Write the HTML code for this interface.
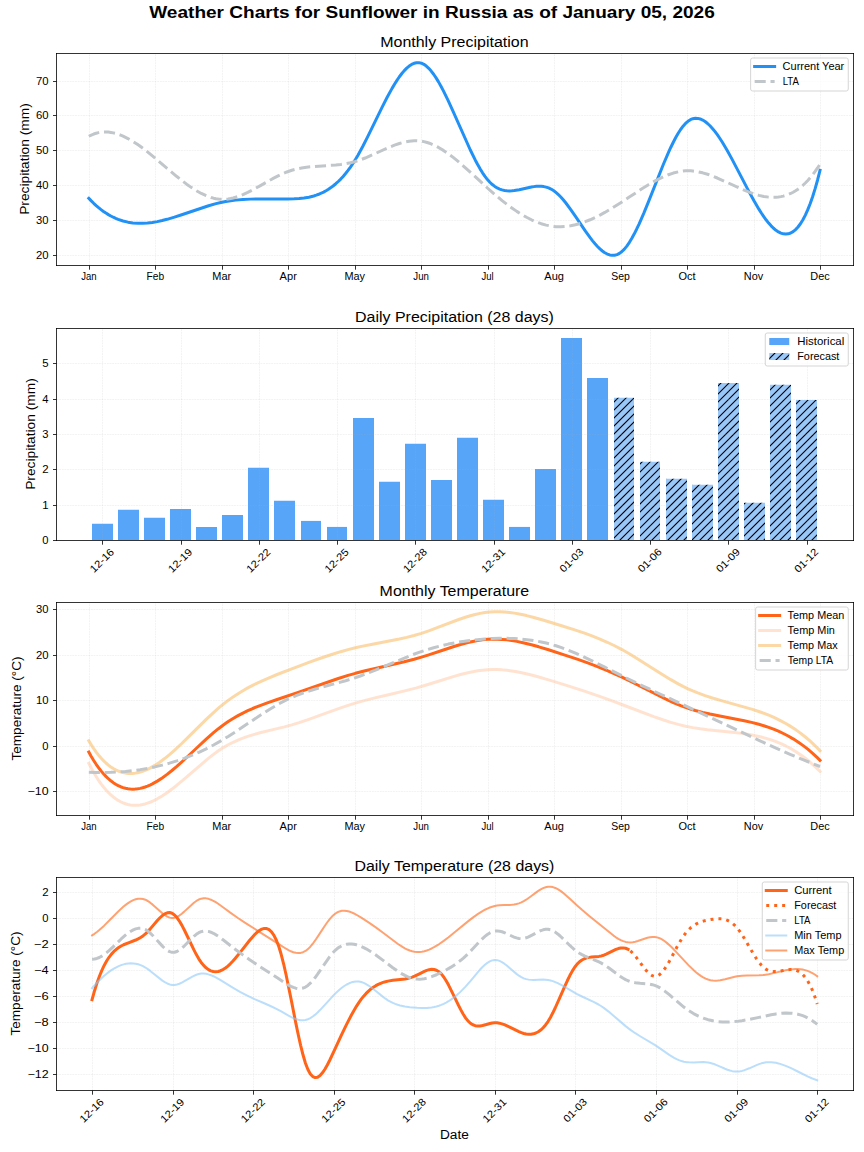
<!DOCTYPE html>
<html><head><meta charset="utf-8"><title>Weather Charts</title>
<style>html,body{margin:0;padding:0;background:#fff;}svg{display:block;}</style></head><body>
<svg  width="864" height="1152" viewBox="0 0 864 1152"  version="1.1">
<defs>
<style type="text/css">*{stroke-linejoin: round; stroke-linecap: butt}</style>
</defs>
<g id="figure_1">
<g id="patch_1">
<path d="M 0 1152 
L 864 1152 
L 864 0 
L 0 0 
z
" style="fill: #ffffff"/>
</g>
<g id="axes_1">
<g id="patch_2">
<path d="M 55.58 265 
L 853.26 265 
L 853.26 53 
L 55.58 53 
z
" style="fill: #ffffff"/>
</g>
<g id="matplotlib.axis_1">
<g id="xtick_1">
<g id="line2d_1">
<path d="M 89.5 265.5 
L 89.5 53.5 
" clip-path="url(#p4a5050b269)" style="fill: none; stroke-dasharray: 1.85,0.8; stroke-dashoffset: 0; stroke: #b0b0b0; stroke-opacity: 0.3; stroke-width: 0.5"/>
</g>
<g id="line2d_2">
<defs>
<path id="m7c25c535dc" d="M 0 0 
L 0 4.2 
" style="stroke: #000000; stroke-width: 0.8"/>
</defs>
<g>
<use href="#m7c25c535dc" x="89.5" y="265.5" style="stroke: #000000; stroke-width: 0.8"/>
</g>
</g>
<g id="text_1">
<text style="font-size: 10.35px; font-family: 'Liberation Sans', sans-serif; text-anchor: middle" x="88.816667" y="280" transform="rotate(-0 88.816667 280)" textLength="15.38" lengthAdjust="spacingAndGlyphs">Jan</text>
</g>
</g>
<g id="xtick_2">
<g id="line2d_3">
<path d="M 155.5 265.5 
L 155.5 53.5 
" clip-path="url(#p4a5050b269)" style="fill: none; stroke-dasharray: 1.85,0.8; stroke-dashoffset: 0; stroke: #b0b0b0; stroke-opacity: 0.3; stroke-width: 0.5"/>
</g>
<g id="line2d_4">
<g>
<use href="#m7c25c535dc" x="155.5" y="265.5" style="stroke: #000000; stroke-width: 0.8"/>
</g>
</g>
<g id="text_2">
<text style="font-size: 10.35px; font-family: 'Liberation Sans', sans-serif; text-anchor: middle" x="155.29" y="280" transform="rotate(-0 155.29 280)" textLength="17.62" lengthAdjust="spacingAndGlyphs">Feb</text>
</g>
</g>
<g id="xtick_3">
<g id="line2d_5">
<path d="M 222.5 265.5 
L 222.5 53.5 
" clip-path="url(#p4a5050b269)" style="fill: none; stroke-dasharray: 1.85,0.8; stroke-dashoffset: 0; stroke: #b0b0b0; stroke-opacity: 0.3; stroke-width: 0.5"/>
</g>
<g id="line2d_6">
<g>
<use href="#m7c25c535dc" x="222.5" y="265.5" style="stroke: #000000; stroke-width: 0.8"/>
</g>
</g>
<g id="text_3">
<text style="font-size: 10.35px; font-family: 'Liberation Sans', sans-serif; text-anchor: middle" x="221.763333" y="280" transform="rotate(-0 221.763333 280)" textLength="18.88" lengthAdjust="spacingAndGlyphs">Mar</text>
</g>
</g>
<g id="xtick_4">
<g id="line2d_7">
<path d="M 288.5 265.5 
L 288.5 53.5 
" clip-path="url(#p4a5050b269)" style="fill: none; stroke-dasharray: 1.85,0.8; stroke-dashoffset: 0; stroke: #b0b0b0; stroke-opacity: 0.3; stroke-width: 0.5"/>
</g>
<g id="line2d_8">
<g>
<use href="#m7c25c535dc" x="288.5" y="265.5" style="stroke: #000000; stroke-width: 0.8"/>
</g>
</g>
<g id="text_4">
<text style="font-size: 10.35px; font-family: 'Liberation Sans', sans-serif; text-anchor: middle" x="288.236667" y="280" transform="rotate(-0 288.236667 280)" textLength="17.25" lengthAdjust="spacingAndGlyphs">Apr</text>
</g>
</g>
<g id="xtick_5">
<g id="line2d_9">
<path d="M 355.5 265.5 
L 355.5 53.5 
" clip-path="url(#p4a5050b269)" style="fill: none; stroke-dasharray: 1.85,0.8; stroke-dashoffset: 0; stroke: #b0b0b0; stroke-opacity: 0.3; stroke-width: 0.5"/>
</g>
<g id="line2d_10">
<g>
<use href="#m7c25c535dc" x="355.5" y="265.5" style="stroke: #000000; stroke-width: 0.8"/>
</g>
</g>
<g id="text_5">
<text style="font-size: 10.35px; font-family: 'Liberation Sans', sans-serif; text-anchor: middle" x="354.71" y="280" transform="rotate(-0 354.71 280)" textLength="20.62" lengthAdjust="spacingAndGlyphs">May</text>
</g>
</g>
<g id="xtick_6">
<g id="line2d_11">
<path d="M 421.5 265.5 
L 421.5 53.5 
" clip-path="url(#p4a5050b269)" style="fill: none; stroke-dasharray: 1.85,0.8; stroke-dashoffset: 0; stroke: #b0b0b0; stroke-opacity: 0.3; stroke-width: 0.5"/>
</g>
<g id="line2d_12">
<g>
<use href="#m7c25c535dc" x="421.5" y="265.5" style="stroke: #000000; stroke-width: 0.8"/>
</g>
</g>
<g id="text_6">
<text style="font-size: 10.35px; font-family: 'Liberation Sans', sans-serif; text-anchor: middle" x="421.183333" y="280" transform="rotate(-0 421.183333 280)" textLength="15.62" lengthAdjust="spacingAndGlyphs">Jun</text>
</g>
</g>
<g id="xtick_7">
<g id="line2d_13">
<path d="M 488.5 265.5 
L 488.5 53.5 
" clip-path="url(#p4a5050b269)" style="fill: none; stroke-dasharray: 1.85,0.8; stroke-dashoffset: 0; stroke: #b0b0b0; stroke-opacity: 0.3; stroke-width: 0.5"/>
</g>
<g id="line2d_14">
<g>
<use href="#m7c25c535dc" x="488.5" y="265.5" style="stroke: #000000; stroke-width: 0.8"/>
</g>
</g>
<g id="text_7">
<text style="font-size: 10.35px; font-family: 'Liberation Sans', sans-serif; text-anchor: middle" x="487.656667" y="280" transform="rotate(-0 487.656667 280)" textLength="12.12" lengthAdjust="spacingAndGlyphs">Jul</text>
</g>
</g>
<g id="xtick_8">
<g id="line2d_15">
<path d="M 554.5 265.5 
L 554.5 53.5 
" clip-path="url(#p4a5050b269)" style="fill: none; stroke-dasharray: 1.85,0.8; stroke-dashoffset: 0; stroke: #b0b0b0; stroke-opacity: 0.3; stroke-width: 0.5"/>
</g>
<g id="line2d_16">
<g>
<use href="#m7c25c535dc" x="554.5" y="265.5" style="stroke: #000000; stroke-width: 0.8"/>
</g>
</g>
<g id="text_8">
<text style="font-size: 10.35px; font-family: 'Liberation Sans', sans-serif; text-anchor: middle" x="554.13" y="280" transform="rotate(-0 554.13 280)" textLength="19.62" lengthAdjust="spacingAndGlyphs">Aug</text>
</g>
</g>
<g id="xtick_9">
<g id="line2d_17">
<path d="M 621.5 265.5 
L 621.5 53.5 
" clip-path="url(#p4a5050b269)" style="fill: none; stroke-dasharray: 1.85,0.8; stroke-dashoffset: 0; stroke: #b0b0b0; stroke-opacity: 0.3; stroke-width: 0.5"/>
</g>
<g id="line2d_18">
<g>
<use href="#m7c25c535dc" x="621.5" y="265.5" style="stroke: #000000; stroke-width: 0.8"/>
</g>
</g>
<g id="text_9">
<text style="font-size: 10.35px; font-family: 'Liberation Sans', sans-serif; text-anchor: middle" x="620.603333" y="280" transform="rotate(-0 620.603333 280)" textLength="18.62" lengthAdjust="spacingAndGlyphs">Sep</text>
</g>
</g>
<g id="xtick_10">
<g id="line2d_19">
<path d="M 687.5 265.5 
L 687.5 53.5 
" clip-path="url(#p4a5050b269)" style="fill: none; stroke-dasharray: 1.85,0.8; stroke-dashoffset: 0; stroke: #b0b0b0; stroke-opacity: 0.3; stroke-width: 0.5"/>
</g>
<g id="line2d_20">
<g>
<use href="#m7c25c535dc" x="687.5" y="265.5" style="stroke: #000000; stroke-width: 0.8"/>
</g>
</g>
<g id="text_10">
<text style="font-size: 10.35px; font-family: 'Liberation Sans', sans-serif; text-anchor: middle" x="687.076667" y="280" transform="rotate(-0 687.076667 280)" textLength="17.12" lengthAdjust="spacingAndGlyphs">Oct</text>
</g>
</g>
<g id="xtick_11">
<g id="line2d_21">
<path d="M 754.5 265.5 
L 754.5 53.5 
" clip-path="url(#p4a5050b269)" style="fill: none; stroke-dasharray: 1.85,0.8; stroke-dashoffset: 0; stroke: #b0b0b0; stroke-opacity: 0.3; stroke-width: 0.5"/>
</g>
<g id="line2d_22">
<g>
<use href="#m7c25c535dc" x="754.5" y="265.5" style="stroke: #000000; stroke-width: 0.8"/>
</g>
</g>
<g id="text_11">
<text style="font-size: 10.35px; font-family: 'Liberation Sans', sans-serif; text-anchor: middle" x="753.55" y="280" transform="rotate(-0 753.55 280)" textLength="19.38" lengthAdjust="spacingAndGlyphs">Nov</text>
</g>
</g>
<g id="xtick_12">
<g id="line2d_23">
<path d="M 820.5 265.5 
L 820.5 53.5 
" clip-path="url(#p4a5050b269)" style="fill: none; stroke-dasharray: 1.85,0.8; stroke-dashoffset: 0; stroke: #b0b0b0; stroke-opacity: 0.3; stroke-width: 0.5"/>
</g>
<g id="line2d_24">
<g>
<use href="#m7c25c535dc" x="820.5" y="265.5" style="stroke: #000000; stroke-width: 0.8"/>
</g>
</g>
<g id="text_12">
<text style="font-size: 10.35px; font-family: 'Liberation Sans', sans-serif; text-anchor: middle" x="820.023333" y="280" transform="rotate(-0 820.023333 280)" textLength="19.38" lengthAdjust="spacingAndGlyphs">Dec</text>
</g>
</g>
</g>
<g id="matplotlib.axis_2">
<g id="ytick_1">
<g id="line2d_25">
<path d="M 56.5 255.5 
L 853.5 255.5 
" clip-path="url(#p4a5050b269)" style="fill: none; stroke-dasharray: 1.85,0.8; stroke-dashoffset: 0; stroke: #b0b0b0; stroke-opacity: 0.3; stroke-width: 0.5"/>
</g>
<g id="line2d_26">
<defs>
<path id="mb258c49b38" d="M 0 0 
L -3.5 0 
" style="stroke: #000000; stroke-width: 0.8"/>
</defs>
<g>
<use href="#mb258c49b38" x="56.5" y="255.5" style="stroke: #000000; stroke-width: 0.8"/>
</g>
</g>
<g id="text_13">
<text style="font-size: 10.35px; font-family: 'Liberation Sans', sans-serif; text-anchor: end" x="48.58" y="258.741393" transform="rotate(-0 48.58 258.741393)" textLength="12.62" lengthAdjust="spacingAndGlyphs">20</text>
</g>
</g>
<g id="ytick_2">
<g id="line2d_27">
<path d="M 56.5 220.5 
L 853.5 220.5 
" clip-path="url(#p4a5050b269)" style="fill: none; stroke-dasharray: 1.85,0.8; stroke-dashoffset: 0; stroke: #b0b0b0; stroke-opacity: 0.3; stroke-width: 0.5"/>
</g>
<g id="line2d_28">
<g>
<use href="#mb258c49b38" x="56.5" y="220.5" style="stroke: #000000; stroke-width: 0.8"/>
</g>
</g>
<g id="text_14">
<text style="font-size: 10.35px; font-family: 'Liberation Sans', sans-serif; text-anchor: end" x="48.58" y="223.897926" transform="rotate(-0 48.58 223.897926)" textLength="12.50" lengthAdjust="spacingAndGlyphs">30</text>
</g>
</g>
<g id="ytick_3">
<g id="line2d_29">
<path d="M 56.5 185.5 
L 853.5 185.5 
" clip-path="url(#p4a5050b269)" style="fill: none; stroke-dasharray: 1.85,0.8; stroke-dashoffset: 0; stroke: #b0b0b0; stroke-opacity: 0.3; stroke-width: 0.5"/>
</g>
<g id="line2d_30">
<g>
<use href="#mb258c49b38" x="56.5" y="185.5" style="stroke: #000000; stroke-width: 0.8"/>
</g>
</g>
<g id="text_15">
<text style="font-size: 10.35px; font-family: 'Liberation Sans', sans-serif; text-anchor: end" x="48.58" y="189.054459" transform="rotate(-0 48.58 189.054459)" textLength="12.50" lengthAdjust="spacingAndGlyphs">40</text>
</g>
</g>
<g id="ytick_4">
<g id="line2d_31">
<path d="M 56.5 150.5 
L 853.5 150.5 
" clip-path="url(#p4a5050b269)" style="fill: none; stroke-dasharray: 1.85,0.8; stroke-dashoffset: 0; stroke: #b0b0b0; stroke-opacity: 0.3; stroke-width: 0.5"/>
</g>
<g id="line2d_32">
<g>
<use href="#mb258c49b38" x="56.5" y="150.5" style="stroke: #000000; stroke-width: 0.8"/>
</g>
</g>
<g id="text_16">
<text style="font-size: 10.35px; font-family: 'Liberation Sans', sans-serif; text-anchor: end" x="48.58" y="154.210992" transform="rotate(-0 48.58 154.210992)" textLength="12.62" lengthAdjust="spacingAndGlyphs">50</text>
</g>
</g>
<g id="ytick_5">
<g id="line2d_33">
<path d="M 56.5 115.5 
L 853.5 115.5 
" clip-path="url(#p4a5050b269)" style="fill: none; stroke-dasharray: 1.85,0.8; stroke-dashoffset: 0; stroke: #b0b0b0; stroke-opacity: 0.3; stroke-width: 0.5"/>
</g>
<g id="line2d_34">
<g>
<use href="#mb258c49b38" x="56.5" y="115.5" style="stroke: #000000; stroke-width: 0.8"/>
</g>
</g>
<g id="text_17">
<text style="font-size: 10.35px; font-family: 'Liberation Sans', sans-serif; text-anchor: end" x="48.58" y="119.367525" transform="rotate(-0 48.58 119.367525)" textLength="12.62" lengthAdjust="spacingAndGlyphs">60</text>
</g>
</g>
<g id="ytick_6">
<g id="line2d_35">
<path d="M 56.5 81.5 
L 853.5 81.5 
" clip-path="url(#p4a5050b269)" style="fill: none; stroke-dasharray: 1.85,0.8; stroke-dashoffset: 0; stroke: #b0b0b0; stroke-opacity: 0.3; stroke-width: 0.5"/>
</g>
<g id="line2d_36">
<g>
<use href="#mb258c49b38" x="56.5" y="81.5" style="stroke: #000000; stroke-width: 0.8"/>
</g>
</g>
<g id="text_18">
<text style="font-size: 10.35px; font-family: 'Liberation Sans', sans-serif; text-anchor: end" x="48.58" y="84.524058" transform="rotate(-0 48.58 84.524058)" textLength="12.62" lengthAdjust="spacingAndGlyphs">70</text>
</g>
</g>
<g id="text_19">
<text style="font-size: 12.42px; font-family: 'Liberation Sans', sans-serif; text-anchor: middle" x="28.955" y="159" transform="rotate(-90 28.955 159)" textLength="111.75" lengthAdjust="spacingAndGlyphs">Precipitation (mm)</text>
</g>
</g>
<g id="line2d_37">
<path d="M 88.816667 198.294977 
L 91.262174 200.883902 
L 93.707681 203.307451 
L 96.153188 205.569699 
L 98.598696 207.67472 
L 101.044203 209.626586 
L 103.48971 211.429373 
L 105.935217 213.087154 
L 108.380725 214.604003 
L 110.826232 215.983994 
L 113.271739 217.231201 
L 115.717246 218.349697 
L 118.162754 219.343558 
L 123.053768 220.973665 
L 127.944783 222.154115 
L 132.835797 222.917497 
L 137.726812 223.296404 
L 142.617826 223.323427 
L 147.508841 223.031157 
L 152.399855 222.452185 
L 157.29087 221.619103 
L 162.181884 220.564503 
L 167.072899 219.320974 
L 174.40942 217.172736 
L 181.745942 214.782738 
L 208.646522 205.728596 
L 215.983043 203.664769 
L 220.874058 202.494065 
L 225.765072 201.520717 
L 230.656087 200.738935 
L 235.547101 200.128636 
L 242.883623 199.490672 
L 250.220145 199.12528 
L 257.556667 198.964503 
L 269.784203 198.96666 
L 286.902754 199.008361 
L 294.239275 198.834408 
L 299.13029 198.537076 
L 304.021304 198.00739 
L 308.912319 197.17047 
L 313.803333 195.951432 
L 316.248841 195.175218 
L 318.694348 194.275395 
L 321.139855 193.242601 
L 323.585362 192.067477 
L 326.03087 190.740663 
L 328.476377 189.252797 
L 330.921884 187.594521 
L 333.367391 185.756473 
L 335.812899 183.729293 
L 338.258406 181.503622 
L 340.703913 179.070099 
L 343.14942 176.419364 
L 345.594928 173.542056 
L 348.040435 170.428816 
L 350.485942 167.070283 
L 352.931449 163.457096 
L 355.376957 159.580039 
L 357.822464 155.443783 
L 362.713478 146.516476 
L 367.604493 136.934262 
L 374.941014 121.905645 
L 382.277536 106.87603 
L 387.168551 97.29204 
L 392.059565 88.36207 
L 394.505072 84.224151 
L 396.95058 80.347905 
L 399.396087 76.766057 
L 401.841594 73.51133 
L 404.287101 70.616447 
L 406.732609 68.11413 
L 409.178116 66.037104 
L 411.623623 64.418091 
L 414.06913 63.289814 
L 416.514638 62.684998 
L 418.960145 62.636364 
L 421.405652 63.176627 
L 423.851159 64.322841 
L 426.296667 66.044273 
L 428.742174 68.301107 
L 431.187681 71.053526 
L 433.633188 74.261714 
L 436.078696 77.885854 
L 438.524203 81.886129 
L 440.96971 86.222724 
L 443.415217 90.855822 
L 448.306232 100.852259 
L 453.197246 111.556909 
L 470.315797 150.001556 
L 475.206812 159.951332 
L 477.652319 164.554736 
L 480.097826 168.857395 
L 482.543333 172.819493 
L 484.988841 176.401214 
L 487.434348 179.56274 
L 489.879855 182.273121 
L 492.325362 184.548046 
L 494.77087 186.418488 
L 497.216377 187.915429 
L 499.661884 189.069852 
L 502.107391 189.912737 
L 504.552899 190.475068 
L 506.998406 190.787826 
L 509.443913 190.881993 
L 511.88942 190.788551 
L 514.334928 190.538482 
L 519.225942 189.692392 
L 531.453478 187.004937 
L 533.898986 186.617205 
L 536.344493 186.351684 
L 538.79 186.239357 
L 541.235507 186.311204 
L 543.681014 186.598209 
L 546.126522 187.131353 
L 548.572029 187.941618 
L 551.017536 189.059985 
L 553.463043 190.517438 
L 555.908551 192.34057 
L 558.354058 194.514731 
L 560.799565 197.002677 
L 563.245072 199.766932 
L 565.69058 202.77002 
L 570.581594 209.34279 
L 575.472609 216.421177 
L 585.254638 230.895567 
L 590.145652 237.691951 
L 592.591159 240.848773 
L 595.036667 243.794715 
L 597.482174 246.492299 
L 599.927681 248.90405 
L 602.373188 250.992491 
L 604.818696 252.720146 
L 607.264203 254.04954 
L 609.70971 254.943195 
L 612.155217 255.363636 
L 614.600725 255.273387 
L 617.046232 254.634971 
L 619.491739 253.410913 
L 621.937246 251.566003 
L 624.382754 249.107544 
L 626.828261 246.080589 
L 629.273768 242.531506 
L 631.719275 238.506663 
L 634.164783 234.052427 
L 636.61029 229.215164 
L 639.055797 224.041242 
L 643.946812 212.868891 
L 648.837826 200.906311 
L 663.51087 163.986576 
L 668.401884 152.572459 
L 670.847391 147.241389 
L 673.292899 142.222802 
L 675.738406 137.563064 
L 678.183913 133.308542 
L 680.62942 129.505605 
L 683.074928 126.200619 
L 685.520435 123.439952 
L 687.965942 121.269372 
L 690.411449 119.705537 
L 692.856957 118.72347 
L 695.302464 118.294994 
L 697.747971 118.391931 
L 700.193478 118.986105 
L 702.638986 120.049337 
L 705.084493 121.553451 
L 707.53 123.470268 
L 709.975507 125.771612 
L 712.421014 128.429304 
L 714.866522 131.415169 
L 717.312029 134.701027 
L 719.757536 138.258703 
L 722.203043 142.060018 
L 727.094058 150.280856 
L 731.985072 159.138122 
L 739.321594 173.124221 
L 749.103623 191.89594 
L 753.994638 200.827571 
L 758.885652 209.155825 
L 761.331159 213.023241 
L 763.776667 216.655281 
L 766.222174 220.023768 
L 768.667681 223.100522 
L 771.113188 225.857368 
L 773.558696 228.266127 
L 776.004203 230.298623 
L 778.44971 231.926678 
L 780.895217 233.122114 
L 783.340725 233.856754 
L 785.786232 234.102421 
L 788.231739 233.830937 
L 790.677246 233.014125 
L 793.122754 231.623807 
L 795.568261 229.631806 
L 798.013768 227.009945 
L 800.459275 223.730046 
L 802.904783 219.763932 
L 805.35029 215.083425 
L 807.795797 209.660348 
L 810.241304 203.466524 
L 812.686812 196.473774 
L 815.132319 188.653923 
L 817.577826 179.978792 
L 820.023333 170.420203 
L 820.023333 170.420203 
" clip-path="url(#p4a5050b269)" style="fill: none; stroke: #2191f5; stroke-width: 3; stroke-linecap: square"/>
</g>
<g id="line2d_38">
<path d="M 88.816667 136.273605 
L 91.262174 135.045274 
L 93.707681 134.033613 
L 96.153188 133.231337 
L 98.598696 132.63116 
L 101.044203 132.225799 
L 103.48971 132.007968 
L 105.935217 131.970382 
L 108.380725 132.105757 
L 110.826232 132.406807 
L 113.271739 132.866247 
L 115.717246 133.476793 
L 118.162754 134.23116 
L 120.608261 135.122062 
L 123.053768 136.142215 
L 127.944783 138.541135 
L 132.835797 141.369638 
L 137.726812 144.569447 
L 142.617826 148.082281 
L 147.508841 151.849861 
L 154.845362 157.851395 
L 167.072899 168.302058 
L 176.854928 176.541371 
L 181.745942 180.460353 
L 186.636957 184.167847 
L 191.527971 187.605573 
L 196.418986 190.715252 
L 201.31 193.438604 
L 206.201014 195.71735 
L 208.646522 196.671783 
L 211.092029 197.49321 
L 213.537536 198.174347 
L 215.983043 198.707907 
L 218.428551 199.086606 
L 220.874058 199.303159 
L 223.319565 199.351027 
L 225.765072 199.233375 
L 228.21058 198.96015 
L 230.656087 198.541442 
L 233.101594 197.987337 
L 237.992609 196.513294 
L 242.883623 194.618724 
L 247.774638 192.384334 
L 252.665652 189.890827 
L 260.002174 185.841267 
L 272.22971 178.939741 
L 277.120725 176.361229 
L 282.011739 174.00783 
L 286.902754 171.960251 
L 291.793768 170.290408 
L 296.684783 168.987657 
L 301.575797 167.996113 
L 306.466812 167.259429 
L 311.357826 166.721259 
L 318.694348 166.162957 
L 335.812899 165.035966 
L 340.703913 164.50559 
L 345.594928 163.779298 
L 350.485942 162.800744 
L 355.376957 161.513636 
L 360.267971 159.893722 
L 365.158986 158.002401 
L 372.495507 154.821828 
L 389.614058 147.119406 
L 394.505072 145.186468 
L 399.396087 143.511064 
L 404.287101 142.168756 
L 409.178116 141.235107 
L 411.623623 140.945143 
L 414.06913 140.78568 
L 416.514638 140.766163 
L 418.960145 140.896038 
L 421.405652 141.184747 
L 423.851159 141.638116 
L 426.296667 142.250927 
L 428.742174 143.015864 
L 431.187681 143.925611 
L 433.633188 144.972851 
L 438.524203 147.450547 
L 443.415217 150.390421 
L 448.306232 153.733944 
L 453.197246 157.422585 
L 458.088261 161.397815 
L 465.424783 167.769978 
L 475.206812 176.722976 
L 487.434348 187.989871 
L 494.77087 194.456975 
L 502.107391 200.563114 
L 506.998406 204.393635 
L 511.88942 208.004177 
L 516.780435 211.370918 
L 521.671449 214.470039 
L 526.562464 217.27772 
L 531.453478 219.770141 
L 536.344493 221.923481 
L 541.235507 223.71392 
L 546.126522 225.117638 
L 551.017536 226.110815 
L 555.908551 226.670033 
L 560.799565 226.791488 
L 565.69058 226.499418 
L 570.581594 225.820219 
L 575.472609 224.780288 
L 580.363623 223.406021 
L 585.254638 221.723813 
L 590.145652 219.760062 
L 595.036667 217.541164 
L 599.927681 215.093513 
L 604.818696 212.443508 
L 612.155217 208.146825 
L 619.491739 203.54332 
L 629.273768 197.100665 
L 641.501304 189.043888 
L 648.837826 184.486848 
L 653.728841 181.661088 
L 658.619855 179.05937 
L 663.51087 176.728178 
L 668.401884 174.713994 
L 673.292899 173.0633 
L 678.183913 171.822581 
L 680.62942 171.370487 
L 683.074928 171.038317 
L 685.520435 170.831882 
L 687.965942 170.756884 
L 690.411449 170.813792 
L 692.856957 170.995585 
L 697.747971 171.703445 
L 702.638986 172.819704 
L 707.53 174.2836 
L 712.421014 176.03437 
L 717.312029 178.011253 
L 724.648551 181.267621 
L 744.212609 190.210571 
L 749.103623 192.176113 
L 753.994638 193.912053 
L 758.885652 195.357629 
L 763.776667 196.452079 
L 768.667681 197.134641 
L 771.113188 197.302476 
L 773.558696 197.344554 
L 776.004203 197.253278 
L 778.44971 197.021054 
L 780.895217 196.640286 
L 783.340725 196.10338 
L 785.786232 195.40274 
L 788.231739 194.530771 
L 790.677246 193.479877 
L 793.122754 192.242464 
L 795.568261 190.810936 
L 798.013768 189.177697 
L 800.459275 187.335154 
L 802.904783 185.275709 
L 805.35029 182.991769 
L 807.795797 180.475737 
L 810.241304 177.720019 
L 812.686812 174.71702 
L 815.132319 171.459143 
L 817.577826 167.938795 
L 820.023333 164.148379 
L 820.023333 164.148379 
" clip-path="url(#p4a5050b269)" style="fill: none; stroke-dasharray: 11.1,4.8; stroke-dashoffset: 0; stroke: #c0c6ca; stroke-width: 3"/>
</g>
<g id="patch_3">
<path d="M 56.5 265.5 
L 56.5 53.5 
" style="fill: none; stroke: #000000; stroke-width: 0.8; stroke-linejoin: miter; stroke-linecap: square"/>
</g>
<g id="patch_4">
<path d="M 853.5 265.5 
L 853.5 53.5 
" style="fill: none; stroke: #000000; stroke-width: 0.8; stroke-linejoin: miter; stroke-linecap: square"/>
</g>
<g id="patch_5">
<path d="M 56.5 265.5 
L 853.5 265.5 
" style="fill: none; stroke: #000000; stroke-width: 0.8; stroke-linejoin: miter; stroke-linecap: square"/>
</g>
<g id="patch_6">
<path d="M 56.5 53.5 
L 853.5 53.5 
" style="fill: none; stroke: #000000; stroke-width: 0.8; stroke-linejoin: miter; stroke-linecap: square"/>
</g>
<g id="text_20">
<text style="font-size: 14.49px; font-family: 'Liberation Sans', sans-serif; text-anchor: middle" x="454.42" y="47" transform="rotate(-0 454.42 47)" textLength="148.50" lengthAdjust="spacingAndGlyphs">Monthly Precipitation</text>
</g>
<g id="legend_1">
<g id="patch_7">
<path d="M 752.635 91 
L 846.26 91 
Q 848.26 91 848.26 89 
L 848.26 60 
Q 848.26 58 846.26 58 
L 752.635 58 
Q 750.635 58 750.635 60 
L 750.635 89 
Q 750.635 91 752.635 91 
z
" style="fill: #ffffff; opacity: 0.8; stroke: #cccccc; stroke-linejoin: miter"/>
</g>
<g id="line2d_39">
<path d="M 754.635 66.5 
L 764.635 66.5 
L 774.635 66.5 
" style="fill: none; stroke: #2191f5; stroke-width: 3; stroke-linecap: square"/>
</g>
<g id="text_21">
<text style="font-size: 10.35px; font-family: 'Liberation Sans', sans-serif; text-anchor: start" x="782.635" y="70" transform="rotate(-0 782.635 70)" textLength="61.62" lengthAdjust="spacingAndGlyphs">Current Year</text>
</g>
<g id="line2d_40">
<path d="M 754.635 81.5 
L 764.635 81.5 
L 774.635 81.5 
" style="fill: none; stroke-dasharray: 11.1,4.8; stroke-dashoffset: 0; stroke: #c0c6ca; stroke-width: 3"/>
</g>
<g id="text_22">
<text style="font-size: 10.35px; font-family: 'Liberation Sans', sans-serif; text-anchor: start" x="782.635" y="85" transform="rotate(-0 782.635 85)" textLength="16.25" lengthAdjust="spacingAndGlyphs">LTA</text>
</g>
</g>
</g>
<g id="axes_2">
<g id="patch_8">
<path d="M 55.58 540 
L 853.26 540 
L 853.26 328 
L 55.58 328 
z
" style="fill: #ffffff"/>
</g>
<g id="patch_9">
<path d="M 92 540 
L 113 540 
L 113 523.734468 
L 92 523.734468 
z
" clip-path="url(#pa40467c3e4)" style="fill: #57a5f9"/>
</g>
<g id="patch_10">
<path d="M 118 540 
L 139 540 
L 139 509.767325 
L 118 509.767325 
z
" clip-path="url(#pa40467c3e4)" style="fill: #57a5f9"/>
</g>
<g id="patch_11">
<path d="M 144 540 
L 165 540 
L 165 517.723292 
L 144 517.723292 
z
" clip-path="url(#pa40467c3e4)" style="fill: #57a5f9"/>
</g>
<g id="patch_12">
<path d="M 170 540 
L 191 540 
L 191 508.883329 
L 170 508.883329 
z
" clip-path="url(#pa40467c3e4)" style="fill: #57a5f9"/>
</g>
<g id="patch_13">
<path d="M 196 540 
L 217 540 
L 217 526.916854 
L 196 526.916854 
z
" clip-path="url(#pa40467c3e4)" style="fill: #57a5f9"/>
</g>
<g id="patch_14">
<path d="M 222 540 
L 243 540 
L 243 514.894504 
L 222 514.894504 
z
" clip-path="url(#pa40467c3e4)" style="fill: #57a5f9"/>
</g>
<g id="patch_15">
<path d="M 248 540 
L 269 540 
L 269 467.865899 
L 248 467.865899 
z
" clip-path="url(#pa40467c3e4)" style="fill: #57a5f9"/>
</g>
<g id="patch_16">
<path d="M 274 540 
L 295 540 
L 295 500.750563 
L 274 500.750563 
z
" clip-path="url(#pa40467c3e4)" style="fill: #57a5f9"/>
</g>
<g id="patch_17">
<path d="M 301 540 
L 321 540 
L 321 520.905679 
L 301 520.905679 
z
" clip-path="url(#pa40467c3e4)" style="fill: #57a5f9"/>
</g>
<g id="patch_18">
<path d="M 327 540 
L 347 540 
L 347 526.916854 
L 327 526.916854 
z
" clip-path="url(#pa40467c3e4)" style="fill: #57a5f9"/>
</g>
<g id="patch_19">
<path d="M 353 540 
L 374 540 
L 374 418.008506 
L 353 418.008506 
z
" clip-path="url(#pa40467c3e4)" style="fill: #57a5f9"/>
</g>
<g id="patch_20">
<path d="M 379 540 
L 400 540 
L 400 481.833041 
L 379 481.833041 
z
" clip-path="url(#pa40467c3e4)" style="fill: #57a5f9"/>
</g>
<g id="patch_21">
<path d="M 405 540 
L 426 540 
L 426 443.821199 
L 405 443.821199 
z
" clip-path="url(#pa40467c3e4)" style="fill: #57a5f9"/>
</g>
<g id="patch_22">
<path d="M 431 540 
L 452 540 
L 452 479.88825 
L 431 479.88825 
z
" clip-path="url(#pa40467c3e4)" style="fill: #57a5f9"/>
</g>
<g id="patch_23">
<path d="M 457 540 
L 478 540 
L 478 437.810024 
L 457 437.810024 
z
" clip-path="url(#pa40467c3e4)" style="fill: #57a5f9"/>
</g>
<g id="patch_24">
<path d="M 483 540 
L 504 540 
L 504 499.689767 
L 483 499.689767 
z
" clip-path="url(#pa40467c3e4)" style="fill: #57a5f9"/>
</g>
<g id="patch_25">
<path d="M 509 540 
L 530 540 
L 530 526.916854 
L 509 526.916854 
z
" clip-path="url(#pa40467c3e4)" style="fill: #57a5f9"/>
</g>
<g id="patch_26">
<path d="M 535 540 
L 556 540 
L 556 468.926695 
L 535 468.926695 
z
" clip-path="url(#pa40467c3e4)" style="fill: #57a5f9"/>
</g>
<g id="patch_27">
<path d="M 561 540 
L 582 540 
L 582 338.095238 
L 561 338.095238 
z
" clip-path="url(#pa40467c3e4)" style="fill: #57a5f9"/>
</g>
<g id="patch_28">
<path d="M 587 540 
L 608 540 
L 608 378.051872 
L 587 378.051872 
z
" clip-path="url(#pa40467c3e4)" style="fill: #57a5f9"/>
</g>
<g id="patch_29">
<path d="M 614 540 
L 634 540 
L 634 397.85339 
L 614 397.85339 
z
" clip-path="url(#pa40467c3e4)" style="fill: url(#heecc6afefc)"/>
</g>
<g id="patch_30">
<path d="M 640 540 
L 660 540 
L 660 461.854724 
L 640 461.854724 
z
" clip-path="url(#pa40467c3e4)" style="fill: url(#heecc6afefc)"/>
</g>
<g id="patch_31">
<path d="M 666 540 
L 687 540 
L 687 478.827454 
L 666 478.827454 
z
" clip-path="url(#pa40467c3e4)" style="fill: url(#heecc6afefc)"/>
</g>
<g id="patch_32">
<path d="M 692 540 
L 713 540 
L 713 484.838629 
L 692 484.838629 
z
" clip-path="url(#pa40467c3e4)" style="fill: url(#heecc6afefc)"/>
</g>
<g id="patch_33">
<path d="M 718 540 
L 739 540 
L 739 383.002252 
L 718 383.002252 
z
" clip-path="url(#pa40467c3e4)" style="fill: url(#heecc6afefc)"/>
</g>
<g id="patch_34">
<path d="M 744 540 
L 765 540 
L 765 502.872154 
L 744 502.872154 
z
" clip-path="url(#pa40467c3e4)" style="fill: url(#heecc6afefc)"/>
</g>
<g id="patch_35">
<path d="M 770 540 
L 791 540 
L 791 384.770244 
L 770 384.770244 
z
" clip-path="url(#pa40467c3e4)" style="fill: url(#heecc6afefc)"/>
</g>
<g id="patch_36">
<path d="M 796 540 
L 817 540 
L 817 399.974981 
L 796 399.974981 
z
" clip-path="url(#pa40467c3e4)" style="fill: url(#heecc6afefc)"/>
</g>
<g id="matplotlib.axis_3">
<g id="xtick_13">
<g id="line2d_41">
<path d="M 102.5 540.5 
L 102.5 328.5 
" clip-path="url(#pa40467c3e4)" style="fill: none; stroke-dasharray: 1.85,0.8; stroke-dashoffset: 0; stroke: #b0b0b0; stroke-opacity: 0.3; stroke-width: 0.5"/>
</g>
<g id="line2d_42">
<g>
<use href="#m7c25c535dc" x="102.5" y="540.5" style="stroke: #000000; stroke-width: 0.8"/>
</g>
</g>
<g id="text_23">
<text style="font-size: 10.35px; font-family: 'Liberation Sans', sans-serif" transform="translate(94.096269 573.251339) rotate(-45)" textLength="29.12" lengthAdjust="spacingAndGlyphs">12-16</text>
</g>
</g>
<g id="xtick_14">
<g id="line2d_43">
<path d="M 181.5 540.5 
L 181.5 328.5 
" clip-path="url(#pa40467c3e4)" style="fill: none; stroke-dasharray: 1.85,0.8; stroke-dashoffset: 0; stroke: #b0b0b0; stroke-opacity: 0.3; stroke-width: 0.5"/>
</g>
<g id="line2d_44">
<g>
<use href="#m7c25c535dc" x="181.5" y="540.5" style="stroke: #000000; stroke-width: 0.8"/>
</g>
</g>
<g id="text_24">
<text style="font-size: 10.35px; font-family: 'Liberation Sans', sans-serif" transform="translate(172.351337 573.251339) rotate(-45)" textLength="29.12" lengthAdjust="spacingAndGlyphs">12-19</text>
</g>
</g>
<g id="xtick_15">
<g id="line2d_45">
<path d="M 259.5 540.5 
L 259.5 328.5 
" clip-path="url(#pa40467c3e4)" style="fill: none; stroke-dasharray: 1.85,0.8; stroke-dashoffset: 0; stroke: #b0b0b0; stroke-opacity: 0.3; stroke-width: 0.5"/>
</g>
<g id="line2d_46">
<g>
<use href="#m7c25c535dc" x="259.5" y="540.5" style="stroke: #000000; stroke-width: 0.8"/>
</g>
</g>
<g id="text_25">
<text style="font-size: 10.35px; font-family: 'Liberation Sans', sans-serif" transform="translate(250.606406 573.251339) rotate(-45)" textLength="29.12" lengthAdjust="spacingAndGlyphs">12-22</text>
</g>
</g>
<g id="xtick_16">
<g id="line2d_47">
<path d="M 337.5 540.5 
L 337.5 328.5 
" clip-path="url(#pa40467c3e4)" style="fill: none; stroke-dasharray: 1.85,0.8; stroke-dashoffset: 0; stroke: #b0b0b0; stroke-opacity: 0.3; stroke-width: 0.5"/>
</g>
<g id="line2d_48">
<g>
<use href="#m7c25c535dc" x="337.5" y="540.5" style="stroke: #000000; stroke-width: 0.8"/>
</g>
</g>
<g id="text_26">
<text style="font-size: 10.35px; font-family: 'Liberation Sans', sans-serif" transform="translate(328.861475 573.251339) rotate(-45)" textLength="29.12" lengthAdjust="spacingAndGlyphs">12-25</text>
</g>
</g>
<g id="xtick_17">
<g id="line2d_49">
<path d="M 415.5 540.5 
L 415.5 328.5 
" clip-path="url(#pa40467c3e4)" style="fill: none; stroke-dasharray: 1.85,0.8; stroke-dashoffset: 0; stroke: #b0b0b0; stroke-opacity: 0.3; stroke-width: 0.5"/>
</g>
<g id="line2d_50">
<g>
<use href="#m7c25c535dc" x="415.5" y="540.5" style="stroke: #000000; stroke-width: 0.8"/>
</g>
</g>
<g id="text_27">
<text style="font-size: 10.35px; font-family: 'Liberation Sans', sans-serif" transform="translate(407.160738 573.162951) rotate(-45)" textLength="29.00" lengthAdjust="spacingAndGlyphs">12-28</text>
</g>
</g>
<g id="xtick_18">
<g id="line2d_51">
<path d="M 494.5 540.5 
L 494.5 328.5 
" clip-path="url(#pa40467c3e4)" style="fill: none; stroke-dasharray: 1.85,0.8; stroke-dashoffset: 0; stroke: #b0b0b0; stroke-opacity: 0.3; stroke-width: 0.5"/>
</g>
<g id="line2d_52">
<g>
<use href="#m7c25c535dc" x="494.5" y="540.5" style="stroke: #000000; stroke-width: 0.8"/>
</g>
</g>
<g id="text_28">
<text style="font-size: 10.35px; font-family: 'Liberation Sans', sans-serif" transform="translate(485.415806 573.162951) rotate(-45)" textLength="29.00" lengthAdjust="spacingAndGlyphs">12-31</text>
</g>
</g>
<g id="xtick_19">
<g id="line2d_53">
<path d="M 572.5 540.5 
L 572.5 328.5 
" clip-path="url(#pa40467c3e4)" style="fill: none; stroke-dasharray: 1.85,0.8; stroke-dashoffset: 0; stroke: #b0b0b0; stroke-opacity: 0.3; stroke-width: 0.5"/>
</g>
<g id="line2d_54">
<g>
<use href="#m7c25c535dc" x="572.5" y="540.5" style="stroke: #000000; stroke-width: 0.8"/>
</g>
</g>
<g id="text_29">
<text style="font-size: 10.35px; font-family: 'Liberation Sans', sans-serif" transform="translate(563.759263 572.986174) rotate(-45)" textLength="28.75" lengthAdjust="spacingAndGlyphs">01-03</text>
</g>
</g>
<g id="xtick_20">
<g id="line2d_55">
<path d="M 650.5 540.5 
L 650.5 328.5 
" clip-path="url(#pa40467c3e4)" style="fill: none; stroke-dasharray: 1.85,0.8; stroke-dashoffset: 0; stroke: #b0b0b0; stroke-opacity: 0.3; stroke-width: 0.5"/>
</g>
<g id="line2d_56">
<g>
<use href="#m7c25c535dc" x="650.5" y="540.5" style="stroke: #000000; stroke-width: 0.8"/>
</g>
</g>
<g id="text_30">
<text style="font-size: 10.35px; font-family: 'Liberation Sans', sans-serif" transform="translate(641.970138 573.074563) rotate(-45)" textLength="28.88" lengthAdjust="spacingAndGlyphs">01-06</text>
</g>
</g>
<g id="xtick_21">
<g id="line2d_57">
<path d="M 728.5 540.5 
L 728.5 328.5 
" clip-path="url(#pa40467c3e4)" style="fill: none; stroke-dasharray: 1.85,0.8; stroke-dashoffset: 0; stroke: #b0b0b0; stroke-opacity: 0.3; stroke-width: 0.5"/>
</g>
<g id="line2d_58">
<g>
<use href="#m7c25c535dc" x="728.5" y="540.5" style="stroke: #000000; stroke-width: 0.8"/>
</g>
</g>
<g id="text_31">
<text style="font-size: 10.35px; font-family: 'Liberation Sans', sans-serif" transform="translate(720.225207 573.074563) rotate(-45)" textLength="28.88" lengthAdjust="spacingAndGlyphs">01-09</text>
</g>
</g>
<g id="xtick_22">
<g id="line2d_59">
<path d="M 807.5 540.5 
L 807.5 328.5 
" clip-path="url(#pa40467c3e4)" style="fill: none; stroke-dasharray: 1.85,0.8; stroke-dashoffset: 0; stroke: #b0b0b0; stroke-opacity: 0.3; stroke-width: 0.5"/>
</g>
<g id="line2d_60">
<g>
<use href="#m7c25c535dc" x="807.5" y="540.5" style="stroke: #000000; stroke-width: 0.8"/>
</g>
</g>
<g id="text_32">
<text style="font-size: 10.35px; font-family: 'Liberation Sans', sans-serif" transform="translate(798.436081 573.162951) rotate(-45)" textLength="29.00" lengthAdjust="spacingAndGlyphs">01-12</text>
</g>
</g>
</g>
<g id="matplotlib.axis_4">
<g id="ytick_7">
<g id="line2d_61">
<path d="M 56.5 540.5 
L 853.5 540.5 
" clip-path="url(#pa40467c3e4)" style="fill: none; stroke-dasharray: 1.85,0.8; stroke-dashoffset: 0; stroke: #b0b0b0; stroke-opacity: 0.3; stroke-width: 0.5"/>
</g>
<g id="line2d_62">
<g>
<use href="#mb258c49b38" x="56.5" y="540.5" style="stroke: #000000; stroke-width: 0.8"/>
</g>
</g>
<g id="text_33">
<text style="font-size: 10.35px; font-family: 'Liberation Sans', sans-serif; text-anchor: end" x="48.58" y="544" transform="rotate(-0 48.58 544)" textLength="6.25" lengthAdjust="spacingAndGlyphs">0</text>
</g>
</g>
<g id="ytick_8">
<g id="line2d_63">
<path d="M 56.5 505.5 
L 853.5 505.5 
" clip-path="url(#pa40467c3e4)" style="fill: none; stroke-dasharray: 1.85,0.8; stroke-dashoffset: 0; stroke: #b0b0b0; stroke-opacity: 0.3; stroke-width: 0.5"/>
</g>
<g id="line2d_64">
<g>
<use href="#mb258c49b38" x="56.5" y="505.5" style="stroke: #000000; stroke-width: 0.8"/>
</g>
</g>
<g id="text_34">
<text style="font-size: 10.35px; font-family: 'Liberation Sans', sans-serif; text-anchor: end" x="48.58" y="508.640147" transform="rotate(-0 48.58 508.640147)" textLength="6.38" lengthAdjust="spacingAndGlyphs">1</text>
</g>
</g>
<g id="ytick_9">
<g id="line2d_65">
<path d="M 56.5 469.5 
L 853.5 469.5 
" clip-path="url(#pa40467c3e4)" style="fill: none; stroke-dasharray: 1.85,0.8; stroke-dashoffset: 0; stroke: #b0b0b0; stroke-opacity: 0.3; stroke-width: 0.5"/>
</g>
<g id="line2d_66">
<g>
<use href="#mb258c49b38" x="56.5" y="469.5" style="stroke: #000000; stroke-width: 0.8"/>
</g>
</g>
<g id="text_35">
<text style="font-size: 10.35px; font-family: 'Liberation Sans', sans-serif; text-anchor: end" x="48.58" y="473.280294" transform="rotate(-0 48.58 473.280294)" textLength="6.38" lengthAdjust="spacingAndGlyphs">2</text>
</g>
</g>
<g id="ytick_10">
<g id="line2d_67">
<path d="M 56.5 434.5 
L 853.5 434.5 
" clip-path="url(#pa40467c3e4)" style="fill: none; stroke-dasharray: 1.85,0.8; stroke-dashoffset: 0; stroke: #b0b0b0; stroke-opacity: 0.3; stroke-width: 0.5"/>
</g>
<g id="line2d_68">
<g>
<use href="#mb258c49b38" x="56.5" y="434.5" style="stroke: #000000; stroke-width: 0.8"/>
</g>
</g>
<g id="text_36">
<text style="font-size: 10.35px; font-family: 'Liberation Sans', sans-serif; text-anchor: end" x="48.58" y="437.92044" transform="rotate(-0 48.58 437.92044)" textLength="6.25" lengthAdjust="spacingAndGlyphs">3</text>
</g>
</g>
<g id="ytick_11">
<g id="line2d_69">
<path d="M 56.5 399.5 
L 853.5 399.5 
" clip-path="url(#pa40467c3e4)" style="fill: none; stroke-dasharray: 1.85,0.8; stroke-dashoffset: 0; stroke: #b0b0b0; stroke-opacity: 0.3; stroke-width: 0.5"/>
</g>
<g id="line2d_70">
<g>
<use href="#mb258c49b38" x="56.5" y="399.5" style="stroke: #000000; stroke-width: 0.8"/>
</g>
</g>
<g id="text_37">
<text style="font-size: 10.35px; font-family: 'Liberation Sans', sans-serif; text-anchor: end" x="48.58" y="402.560587" transform="rotate(-0 48.58 402.560587)" textLength="6.25" lengthAdjust="spacingAndGlyphs">4</text>
</g>
</g>
<g id="ytick_12">
<g id="line2d_71">
<path d="M 56.5 363.5 
L 853.5 363.5 
" clip-path="url(#pa40467c3e4)" style="fill: none; stroke-dasharray: 1.85,0.8; stroke-dashoffset: 0; stroke: #b0b0b0; stroke-opacity: 0.3; stroke-width: 0.5"/>
</g>
<g id="line2d_72">
<g>
<use href="#mb258c49b38" x="56.5" y="363.5" style="stroke: #000000; stroke-width: 0.8"/>
</g>
</g>
<g id="text_38">
<text style="font-size: 10.35px; font-family: 'Liberation Sans', sans-serif; text-anchor: end" x="48.58" y="367.200734" transform="rotate(-0 48.58 367.200734)" textLength="6.38" lengthAdjust="spacingAndGlyphs">5</text>
</g>
</g>
<g id="text_39">
<text style="font-size: 12.42px; font-family: 'Liberation Sans', sans-serif; text-anchor: middle" x="35.205" y="434" transform="rotate(-90 35.205 434)" textLength="111.75" lengthAdjust="spacingAndGlyphs">Precipitation (mm)</text>
</g>
</g>
<g id="patch_37">
<path d="M 56.5 540.5 
L 56.5 328.5 
" style="fill: none; stroke: #000000; stroke-width: 0.8; stroke-linejoin: miter; stroke-linecap: square"/>
</g>
<g id="patch_38">
<path d="M 853.5 540.5 
L 853.5 328.5 
" style="fill: none; stroke: #000000; stroke-width: 0.8; stroke-linejoin: miter; stroke-linecap: square"/>
</g>
<g id="patch_39">
<path d="M 56.5 540.5 
L 853.5 540.5 
" style="fill: none; stroke: #000000; stroke-width: 0.8; stroke-linejoin: miter; stroke-linecap: square"/>
</g>
<g id="patch_40">
<path d="M 56.5 328.5 
L 853.5 328.5 
" style="fill: none; stroke: #000000; stroke-width: 0.8; stroke-linejoin: miter; stroke-linecap: square"/>
</g>
<g id="text_40">
<text style="font-size: 14.49px; font-family: 'Liberation Sans', sans-serif; text-anchor: middle" x="454.42" y="322" transform="rotate(-0 454.42 322)" textLength="198.88" lengthAdjust="spacingAndGlyphs">Daily Precipitation (28 days)</text>
</g>
<g id="legend_2">
<g id="patch_41">
<path d="M 767.26 366 
L 846.26 366 
Q 848.26 366 848.26 364 
L 848.26 335 
Q 848.26 333 846.26 333 
L 767.26 333 
Q 765.26 333 765.26 335 
L 765.26 364 
Q 765.26 366 767.26 366 
z
" style="fill: #ffffff; opacity: 0.8; stroke: #cccccc; stroke-linejoin: miter"/>
</g>
<g id="patch_42">
<path d="M 769.26 345 
L 789.26 345 
L 789.26 338 
L 769.26 338 
z
" style="fill: #57a5f9"/>
</g>
<g id="text_41">
<text style="font-size: 10.35px; font-family: 'Liberation Sans', sans-serif; text-anchor: start" x="797.26" y="345" transform="rotate(-0 797.26 345)" textLength="47.00" lengthAdjust="spacingAndGlyphs">Historical</text>
</g>
<g id="patch_43">
<path d="M 769.26 360 
L 789.26 360 
L 789.26 353 
L 769.26 353 
z
" style="fill: url(#heecc6afefc)"/>
</g>
<g id="text_42">
<text style="font-size: 10.35px; font-family: 'Liberation Sans', sans-serif; text-anchor: start" x="797.26" y="360" transform="rotate(-0 797.26 360)" textLength="42.12" lengthAdjust="spacingAndGlyphs">Forecast</text>
</g>
</g>
</g>
<g id="axes_3">
<g id="patch_44">
<path d="M 55.58 815 
L 853.26 815 
L 853.26 602 
L 55.58 602 
z
" style="fill: #ffffff"/>
</g>
<g id="matplotlib.axis_5">
<g id="xtick_23">
<g id="line2d_73">
<path d="M 89.5 815.5 
L 89.5 602.5 
" clip-path="url(#p971d4a2447)" style="fill: none; stroke-dasharray: 1.85,0.8; stroke-dashoffset: 0; stroke: #b0b0b0; stroke-opacity: 0.3; stroke-width: 0.5"/>
</g>
<g id="line2d_74">
<g>
<use href="#m7c25c535dc" x="89.5" y="815.5" style="stroke: #000000; stroke-width: 0.8"/>
</g>
</g>
<g id="text_43">
<text style="font-size: 10.35px; font-family: 'Liberation Sans', sans-serif; text-anchor: middle" x="88.816667" y="830" transform="rotate(-0 88.816667 830)" textLength="15.38" lengthAdjust="spacingAndGlyphs">Jan</text>
</g>
</g>
<g id="xtick_24">
<g id="line2d_75">
<path d="M 155.5 815.5 
L 155.5 602.5 
" clip-path="url(#p971d4a2447)" style="fill: none; stroke-dasharray: 1.85,0.8; stroke-dashoffset: 0; stroke: #b0b0b0; stroke-opacity: 0.3; stroke-width: 0.5"/>
</g>
<g id="line2d_76">
<g>
<use href="#m7c25c535dc" x="155.5" y="815.5" style="stroke: #000000; stroke-width: 0.8"/>
</g>
</g>
<g id="text_44">
<text style="font-size: 10.35px; font-family: 'Liberation Sans', sans-serif; text-anchor: middle" x="155.29" y="830" transform="rotate(-0 155.29 830)" textLength="17.62" lengthAdjust="spacingAndGlyphs">Feb</text>
</g>
</g>
<g id="xtick_25">
<g id="line2d_77">
<path d="M 222.5 815.5 
L 222.5 602.5 
" clip-path="url(#p971d4a2447)" style="fill: none; stroke-dasharray: 1.85,0.8; stroke-dashoffset: 0; stroke: #b0b0b0; stroke-opacity: 0.3; stroke-width: 0.5"/>
</g>
<g id="line2d_78">
<g>
<use href="#m7c25c535dc" x="222.5" y="815.5" style="stroke: #000000; stroke-width: 0.8"/>
</g>
</g>
<g id="text_45">
<text style="font-size: 10.35px; font-family: 'Liberation Sans', sans-serif; text-anchor: middle" x="221.763333" y="830" transform="rotate(-0 221.763333 830)" textLength="18.88" lengthAdjust="spacingAndGlyphs">Mar</text>
</g>
</g>
<g id="xtick_26">
<g id="line2d_79">
<path d="M 288.5 815.5 
L 288.5 602.5 
" clip-path="url(#p971d4a2447)" style="fill: none; stroke-dasharray: 1.85,0.8; stroke-dashoffset: 0; stroke: #b0b0b0; stroke-opacity: 0.3; stroke-width: 0.5"/>
</g>
<g id="line2d_80">
<g>
<use href="#m7c25c535dc" x="288.5" y="815.5" style="stroke: #000000; stroke-width: 0.8"/>
</g>
</g>
<g id="text_46">
<text style="font-size: 10.35px; font-family: 'Liberation Sans', sans-serif; text-anchor: middle" x="288.236667" y="830" transform="rotate(-0 288.236667 830)" textLength="17.25" lengthAdjust="spacingAndGlyphs">Apr</text>
</g>
</g>
<g id="xtick_27">
<g id="line2d_81">
<path d="M 355.5 815.5 
L 355.5 602.5 
" clip-path="url(#p971d4a2447)" style="fill: none; stroke-dasharray: 1.85,0.8; stroke-dashoffset: 0; stroke: #b0b0b0; stroke-opacity: 0.3; stroke-width: 0.5"/>
</g>
<g id="line2d_82">
<g>
<use href="#m7c25c535dc" x="355.5" y="815.5" style="stroke: #000000; stroke-width: 0.8"/>
</g>
</g>
<g id="text_47">
<text style="font-size: 10.35px; font-family: 'Liberation Sans', sans-serif; text-anchor: middle" x="354.71" y="830" transform="rotate(-0 354.71 830)" textLength="20.62" lengthAdjust="spacingAndGlyphs">May</text>
</g>
</g>
<g id="xtick_28">
<g id="line2d_83">
<path d="M 421.5 815.5 
L 421.5 602.5 
" clip-path="url(#p971d4a2447)" style="fill: none; stroke-dasharray: 1.85,0.8; stroke-dashoffset: 0; stroke: #b0b0b0; stroke-opacity: 0.3; stroke-width: 0.5"/>
</g>
<g id="line2d_84">
<g>
<use href="#m7c25c535dc" x="421.5" y="815.5" style="stroke: #000000; stroke-width: 0.8"/>
</g>
</g>
<g id="text_48">
<text style="font-size: 10.35px; font-family: 'Liberation Sans', sans-serif; text-anchor: middle" x="421.183333" y="830" transform="rotate(-0 421.183333 830)" textLength="15.62" lengthAdjust="spacingAndGlyphs">Jun</text>
</g>
</g>
<g id="xtick_29">
<g id="line2d_85">
<path d="M 488.5 815.5 
L 488.5 602.5 
" clip-path="url(#p971d4a2447)" style="fill: none; stroke-dasharray: 1.85,0.8; stroke-dashoffset: 0; stroke: #b0b0b0; stroke-opacity: 0.3; stroke-width: 0.5"/>
</g>
<g id="line2d_86">
<g>
<use href="#m7c25c535dc" x="488.5" y="815.5" style="stroke: #000000; stroke-width: 0.8"/>
</g>
</g>
<g id="text_49">
<text style="font-size: 10.35px; font-family: 'Liberation Sans', sans-serif; text-anchor: middle" x="487.656667" y="830" transform="rotate(-0 487.656667 830)" textLength="12.12" lengthAdjust="spacingAndGlyphs">Jul</text>
</g>
</g>
<g id="xtick_30">
<g id="line2d_87">
<path d="M 554.5 815.5 
L 554.5 602.5 
" clip-path="url(#p971d4a2447)" style="fill: none; stroke-dasharray: 1.85,0.8; stroke-dashoffset: 0; stroke: #b0b0b0; stroke-opacity: 0.3; stroke-width: 0.5"/>
</g>
<g id="line2d_88">
<g>
<use href="#m7c25c535dc" x="554.5" y="815.5" style="stroke: #000000; stroke-width: 0.8"/>
</g>
</g>
<g id="text_50">
<text style="font-size: 10.35px; font-family: 'Liberation Sans', sans-serif; text-anchor: middle" x="554.13" y="830" transform="rotate(-0 554.13 830)" textLength="19.62" lengthAdjust="spacingAndGlyphs">Aug</text>
</g>
</g>
<g id="xtick_31">
<g id="line2d_89">
<path d="M 621.5 815.5 
L 621.5 602.5 
" clip-path="url(#p971d4a2447)" style="fill: none; stroke-dasharray: 1.85,0.8; stroke-dashoffset: 0; stroke: #b0b0b0; stroke-opacity: 0.3; stroke-width: 0.5"/>
</g>
<g id="line2d_90">
<g>
<use href="#m7c25c535dc" x="621.5" y="815.5" style="stroke: #000000; stroke-width: 0.8"/>
</g>
</g>
<g id="text_51">
<text style="font-size: 10.35px; font-family: 'Liberation Sans', sans-serif; text-anchor: middle" x="620.603333" y="830" transform="rotate(-0 620.603333 830)" textLength="18.62" lengthAdjust="spacingAndGlyphs">Sep</text>
</g>
</g>
<g id="xtick_32">
<g id="line2d_91">
<path d="M 687.5 815.5 
L 687.5 602.5 
" clip-path="url(#p971d4a2447)" style="fill: none; stroke-dasharray: 1.85,0.8; stroke-dashoffset: 0; stroke: #b0b0b0; stroke-opacity: 0.3; stroke-width: 0.5"/>
</g>
<g id="line2d_92">
<g>
<use href="#m7c25c535dc" x="687.5" y="815.5" style="stroke: #000000; stroke-width: 0.8"/>
</g>
</g>
<g id="text_52">
<text style="font-size: 10.35px; font-family: 'Liberation Sans', sans-serif; text-anchor: middle" x="687.076667" y="830" transform="rotate(-0 687.076667 830)" textLength="17.12" lengthAdjust="spacingAndGlyphs">Oct</text>
</g>
</g>
<g id="xtick_33">
<g id="line2d_93">
<path d="M 754.5 815.5 
L 754.5 602.5 
" clip-path="url(#p971d4a2447)" style="fill: none; stroke-dasharray: 1.85,0.8; stroke-dashoffset: 0; stroke: #b0b0b0; stroke-opacity: 0.3; stroke-width: 0.5"/>
</g>
<g id="line2d_94">
<g>
<use href="#m7c25c535dc" x="754.5" y="815.5" style="stroke: #000000; stroke-width: 0.8"/>
</g>
</g>
<g id="text_53">
<text style="font-size: 10.35px; font-family: 'Liberation Sans', sans-serif; text-anchor: middle" x="753.55" y="830" transform="rotate(-0 753.55 830)" textLength="19.38" lengthAdjust="spacingAndGlyphs">Nov</text>
</g>
</g>
<g id="xtick_34">
<g id="line2d_95">
<path d="M 820.5 815.5 
L 820.5 602.5 
" clip-path="url(#p971d4a2447)" style="fill: none; stroke-dasharray: 1.85,0.8; stroke-dashoffset: 0; stroke: #b0b0b0; stroke-opacity: 0.3; stroke-width: 0.5"/>
</g>
<g id="line2d_96">
<g>
<use href="#m7c25c535dc" x="820.5" y="815.5" style="stroke: #000000; stroke-width: 0.8"/>
</g>
</g>
<g id="text_54">
<text style="font-size: 10.35px; font-family: 'Liberation Sans', sans-serif; text-anchor: middle" x="820.023333" y="830" transform="rotate(-0 820.023333 830)" textLength="19.38" lengthAdjust="spacingAndGlyphs">Dec</text>
</g>
</g>
</g>
<g id="matplotlib.axis_6">
<g id="ytick_13">
<g id="line2d_97">
<path d="M 56.5 791.5 
L 853.5 791.5 
" clip-path="url(#p971d4a2447)" style="fill: none; stroke-dasharray: 1.85,0.8; stroke-dashoffset: 0; stroke: #b0b0b0; stroke-opacity: 0.3; stroke-width: 0.5"/>
</g>
<g id="line2d_98">
<g>
<use href="#mb258c49b38" x="56.5" y="791.5" style="stroke: #000000; stroke-width: 0.8"/>
</g>
</g>
<g id="text_55">
<text style="font-size: 10.35px; font-family: 'Liberation Sans', sans-serif; text-anchor: end" x="48.58" y="795.017158" transform="rotate(-0 48.58 795.017158)" textLength="21.00" lengthAdjust="spacingAndGlyphs">−10</text>
</g>
</g>
<g id="ytick_14">
<g id="line2d_99">
<path d="M 56.5 746.5 
L 853.5 746.5 
" clip-path="url(#p971d4a2447)" style="fill: none; stroke-dasharray: 1.85,0.8; stroke-dashoffset: 0; stroke: #b0b0b0; stroke-opacity: 0.3; stroke-width: 0.5"/>
</g>
<g id="line2d_100">
<g>
<use href="#mb258c49b38" x="56.5" y="746.5" style="stroke: #000000; stroke-width: 0.8"/>
</g>
</g>
<g id="text_56">
<text style="font-size: 10.35px; font-family: 'Liberation Sans', sans-serif; text-anchor: end" x="48.58" y="749.594436" transform="rotate(-0 48.58 749.594436)" textLength="6.25" lengthAdjust="spacingAndGlyphs">0</text>
</g>
</g>
<g id="ytick_15">
<g id="line2d_101">
<path d="M 56.5 700.5 
L 853.5 700.5 
" clip-path="url(#p971d4a2447)" style="fill: none; stroke-dasharray: 1.85,0.8; stroke-dashoffset: 0; stroke: #b0b0b0; stroke-opacity: 0.3; stroke-width: 0.5"/>
</g>
<g id="line2d_102">
<g>
<use href="#mb258c49b38" x="56.5" y="700.5" style="stroke: #000000; stroke-width: 0.8"/>
</g>
</g>
<g id="text_57">
<text style="font-size: 10.35px; font-family: 'Liberation Sans', sans-serif; text-anchor: end" x="48.58" y="704.171714" transform="rotate(-0 48.58 704.171714)" textLength="12.62" lengthAdjust="spacingAndGlyphs">10</text>
</g>
</g>
<g id="ytick_16">
<g id="line2d_103">
<path d="M 56.5 655.5 
L 853.5 655.5 
" clip-path="url(#p971d4a2447)" style="fill: none; stroke-dasharray: 1.85,0.8; stroke-dashoffset: 0; stroke: #b0b0b0; stroke-opacity: 0.3; stroke-width: 0.5"/>
</g>
<g id="line2d_104">
<g>
<use href="#mb258c49b38" x="56.5" y="655.5" style="stroke: #000000; stroke-width: 0.8"/>
</g>
</g>
<g id="text_58">
<text style="font-size: 10.35px; font-family: 'Liberation Sans', sans-serif; text-anchor: end" x="48.58" y="658.748992" transform="rotate(-0 48.58 658.748992)" textLength="12.62" lengthAdjust="spacingAndGlyphs">20</text>
</g>
</g>
<g id="ytick_17">
<g id="line2d_105">
<path d="M 56.5 609.5 
L 853.5 609.5 
" clip-path="url(#p971d4a2447)" style="fill: none; stroke-dasharray: 1.85,0.8; stroke-dashoffset: 0; stroke: #b0b0b0; stroke-opacity: 0.3; stroke-width: 0.5"/>
</g>
<g id="line2d_106">
<g>
<use href="#mb258c49b38" x="56.5" y="609.5" style="stroke: #000000; stroke-width: 0.8"/>
</g>
</g>
<g id="text_59">
<text style="font-size: 10.35px; font-family: 'Liberation Sans', sans-serif; text-anchor: end" x="48.58" y="613.32627" transform="rotate(-0 48.58 613.32627)" textLength="12.50" lengthAdjust="spacingAndGlyphs">30</text>
</g>
</g>
<g id="text_60">
<text style="font-size: 12.42px; font-family: 'Liberation Sans', sans-serif; text-anchor: middle" x="20.58" y="708.5" transform="rotate(-90 20.58 708.5)" textLength="104.00" lengthAdjust="spacingAndGlyphs">Temperature (°C)</text>
</g>
</g>
<g id="line2d_107">
<path d="M 88.816667 752.089885 
L 91.262174 756.456024 
L 93.707681 760.511375 
L 96.153188 764.263342 
L 98.598696 767.719331 
L 101.044203 770.886745 
L 103.48971 773.772989 
L 105.935217 776.385467 
L 108.380725 778.731583 
L 110.826232 780.818742 
L 113.271739 782.654347 
L 115.717246 784.245804 
L 118.162754 785.600516 
L 120.608261 786.725887 
L 123.053768 787.629322 
L 125.499275 788.318225 
L 127.944783 788.800001 
L 130.39029 789.082053 
L 132.835797 789.171786 
L 135.281304 789.076604 
L 137.726812 788.803912 
L 140.172319 788.361113 
L 142.617826 787.755613 
L 145.063333 786.994814 
L 147.508841 786.086122 
L 149.954348 785.036941 
L 152.399855 783.854675 
L 157.29087 781.120505 
L 162.181884 777.942847 
L 167.072899 774.380934 
L 171.963913 770.494 
L 176.854928 766.341281 
L 184.191449 759.743427 
L 196.418986 748.257223 
L 206.201014 739.160565 
L 213.537536 732.702895 
L 218.428551 728.682572 
L 223.319565 724.958719 
L 228.21058 721.558746 
L 233.101594 718.459446 
L 237.992609 715.633016 
L 242.883623 713.051648 
L 247.774638 710.68754 
L 252.665652 708.512886 
L 260.002174 705.545308 
L 267.338696 702.847599 
L 277.120725 699.508258 
L 296.684783 692.910432 
L 338.258406 678.468116 
L 348.040435 675.423595 
L 355.376957 673.325334 
L 365.158986 670.796386 
L 377.386522 667.933619 
L 404.287101 661.797321 
L 414.06913 659.278359 
L 421.405652 657.180522 
L 428.742174 654.87761 
L 443.415217 649.960463 
L 453.197246 646.746105 
L 460.533768 644.523333 
L 467.87029 642.563591 
L 472.761304 641.448509 
L 477.652319 640.518256 
L 482.543333 639.800002 
L 487.434348 639.32092 
L 492.325362 639.10152 
L 497.216377 639.131786 
L 502.107391 639.392956 
L 506.998406 639.866267 
L 511.88942 640.532956 
L 516.780435 641.374261 
L 524.116957 642.922579 
L 531.453478 644.758242 
L 538.79 646.817925 
L 548.572029 649.803197 
L 565.69058 655.318051 
L 577.918116 659.448515 
L 587.700145 662.938056 
L 597.482174 666.644918 
L 607.264203 670.617769 
L 614.600725 673.801242 
L 621.937246 677.182153 
L 631.719275 681.980459 
L 665.956377 699.197655 
L 673.292899 702.509238 
L 680.62942 705.531694 
L 685.520435 707.351421 
L 690.411449 708.993016 
L 695.302464 710.463298 
L 702.638986 712.396767 
L 709.975507 714.072044 
L 719.757536 716.036641 
L 744.212609 720.729048 
L 751.54913 722.389537 
L 758.885652 724.302996 
L 763.776667 725.757039 
L 768.667681 727.380309 
L 773.558696 729.195525 
L 778.44971 731.225405 
L 783.340725 733.492667 
L 788.231739 736.02003 
L 793.122754 738.830211 
L 798.013768 741.94593 
L 802.904783 745.389904 
L 807.795797 749.184852 
L 812.686812 753.353492 
L 817.577826 757.918542 
L 820.023333 760.356821 
L 820.023333 760.356821 
" clip-path="url(#p971d4a2447)" style="fill: none; stroke: #ff6419; stroke-width: 3; stroke-linecap: square"/>
</g>
<g id="line2d_108">
<path d="M 88.816667 763.309298 
L 91.262174 768.04295 
L 93.707681 772.451726 
L 96.153188 776.543493 
L 98.598696 780.326118 
L 101.044203 783.807468 
L 103.48971 786.99541 
L 105.935217 789.897813 
L 108.380725 792.522542 
L 110.826232 794.877466 
L 113.271739 796.970451 
L 115.717246 798.809364 
L 118.162754 800.402074 
L 120.608261 801.756447 
L 123.053768 802.880351 
L 125.499275 803.781653 
L 127.944783 804.468219 
L 130.39029 804.947918 
L 132.835797 805.228617 
L 135.281304 805.318182 
L 137.726812 805.224481 
L 140.172319 804.955382 
L 142.617826 804.518751 
L 145.063333 803.922456 
L 147.508841 803.174364 
L 149.954348 802.282343 
L 152.399855 801.254259 
L 157.29087 798.821373 
L 162.181884 795.938645 
L 167.072899 792.669012 
L 171.963913 789.075413 
L 176.854928 785.220785 
L 184.191449 779.087092 
L 208.646522 758.149797 
L 213.537536 754.343607 
L 218.428551 750.811361 
L 223.319565 747.615465 
L 228.21058 744.782477 
L 233.101594 742.2811 
L 237.992609 740.07478 
L 242.883623 738.126964 
L 247.774638 736.401098 
L 252.665652 734.860628 
L 260.002174 732.817579 
L 269.784203 730.401233 
L 284.457246 726.842113 
L 291.793768 724.828037 
L 299.13029 722.580502 
L 308.912319 719.306253 
L 321.139855 714.944604 
L 340.703913 707.92481 
L 350.485942 704.663685 
L 357.822464 702.428788 
L 365.158986 700.389775 
L 374.941014 697.901758 
L 389.614058 694.444131 
L 406.732609 690.390297 
L 416.514638 687.853316 
L 423.851159 685.763497 
L 433.633188 682.742376 
L 453.197246 676.614193 
L 460.533768 674.542378 
L 467.87029 672.724199 
L 472.761304 671.694328 
L 477.652319 670.839195 
L 482.543333 670.183604 
L 487.434348 669.75236 
L 492.325362 669.564165 
L 497.216377 669.609741 
L 502.107391 669.871798 
L 506.998406 670.333043 
L 511.88942 670.976183 
L 516.780435 671.783927 
L 524.116957 673.266349 
L 531.453478 675.02186 
L 538.79 676.992099 
L 548.572029 679.852235 
L 565.69058 685.151604 
L 582.80913 690.68544 
L 597.482174 695.659863 
L 612.155217 700.889886 
L 624.382754 705.471159 
L 653.728841 716.637142 
L 663.51087 720.0267 
L 670.847391 722.342175 
L 678.183913 724.410283 
L 685.520435 726.183271 
L 692.856957 727.623452 
L 700.193478 728.770488 
L 707.53 729.699904 
L 719.757536 730.970995 
L 734.43058 732.469608 
L 741.767101 733.384676 
L 749.103623 734.511216 
L 756.440145 735.924949 
L 761.331159 737.064383 
L 766.222174 738.387548 
L 771.113188 739.916881 
L 776.004203 741.674819 
L 780.895217 743.683796 
L 785.786232 745.966249 
L 790.677246 748.544614 
L 795.568261 751.441328 
L 800.459275 754.678827 
L 805.35029 758.279546 
L 810.241304 762.265921 
L 815.132319 766.66039 
L 820.023333 771.485388 
L 820.023333 771.485388 
" clip-path="url(#p971d4a2447)" style="fill: none; stroke: #ffc7a1; stroke-opacity: 0.5; stroke-width: 3; stroke-linecap: square"/>
</g>
<g id="line2d_109">
<path d="M 88.816667 740.870473 
L 91.262174 744.893795 
L 93.707681 748.618724 
L 96.153188 752.052315 
L 98.598696 755.201623 
L 101.044203 758.073704 
L 103.48971 760.675612 
L 105.935217 763.014404 
L 108.380725 765.097134 
L 110.826232 766.930858 
L 113.271739 768.522631 
L 115.717246 769.879509 
L 118.162754 771.008547 
L 120.608261 771.9168 
L 123.053768 772.611323 
L 125.499275 773.099173 
L 127.944783 773.387403 
L 130.39029 773.483071 
L 132.835797 773.39323 
L 135.281304 773.124937 
L 137.726812 772.685246 
L 140.172319 772.081213 
L 142.617826 771.319893 
L 145.063333 770.408342 
L 147.508841 769.353615 
L 149.954348 768.162768 
L 154.845362 765.400932 
L 159.736377 762.179277 
L 164.627391 758.554246 
L 169.518406 754.582282 
L 174.40942 750.319828 
L 181.745942 743.504945 
L 191.527971 733.928515 
L 206.201014 719.43124 
L 213.537536 712.535656 
L 218.428551 708.198708 
L 223.319565 704.135271 
L 228.21058 700.372792 
L 233.101594 696.892602 
L 237.992609 693.671842 
L 242.883623 690.687655 
L 247.774638 687.917181 
L 252.665652 685.337563 
L 260.002174 681.775987 
L 267.338696 678.515259 
L 277.120725 674.502265 
L 291.793768 668.830357 
L 308.912319 662.376253 
L 321.139855 657.992744 
L 330.921884 654.709561 
L 340.703913 651.688483 
L 348.040435 649.629846 
L 355.376957 647.776177 
L 362.713478 646.133063 
L 372.495507 644.176989 
L 399.396087 639.014453 
L 406.732609 637.364676 
L 414.06913 635.491066 
L 421.405652 633.329989 
L 428.742174 630.850136 
L 438.524203 627.202437 
L 458.088261 619.748054 
L 465.424783 617.245521 
L 470.315797 615.757176 
L 475.206812 614.452154 
L 480.097826 613.364154 
L 484.988841 612.526873 
L 489.879855 611.973131 
L 494.77087 611.710456 
L 499.661884 611.717903 
L 504.552899 611.973005 
L 509.443913 612.453299 
L 514.334928 613.136318 
L 519.225942 613.999597 
L 526.562464 615.583362 
L 533.898986 617.446345 
L 543.681014 620.233615 
L 560.799565 625.455693 
L 575.472609 630.103415 
L 585.254638 633.443774 
L 592.591159 636.14786 
L 599.927681 639.069722 
L 607.264203 642.251983 
L 614.600725 645.737268 
L 621.937246 649.568064 
L 629.273768 653.749335 
L 636.61029 658.197939 
L 648.837826 665.946212 
L 663.51087 675.248844 
L 670.847391 679.678602 
L 678.183913 683.832952 
L 683.074928 686.402216 
L 687.965942 688.778182 
L 692.856957 690.946671 
L 697.747971 692.926725 
L 705.084493 695.595564 
L 712.421014 697.974331 
L 722.203043 700.833662 
L 751.54913 709.078997 
L 758.885652 711.486403 
L 766.222174 714.192924 
L 771.113188 716.203123 
L 776.004203 718.405777 
L 780.895217 720.824692 
L 785.786232 723.483672 
L 790.677246 726.406524 
L 795.568261 729.617052 
L 800.459275 733.139064 
L 805.35029 736.996364 
L 810.241304 741.212757 
L 815.132319 745.812051 
L 820.023333 750.818049 
L 820.023333 750.818049 
" clip-path="url(#p971d4a2447)" style="fill: none; stroke: #f9b14d; stroke-opacity: 0.5; stroke-width: 3; stroke-linecap: square"/>
</g>
<g id="line2d_110">
<path d="M 88.816667 772.302997 
L 96.153188 772.507107 
L 103.48971 772.532299 
L 110.826232 772.369125 
L 118.162754 772.008137 
L 125.499275 771.439889 
L 132.835797 770.654933 
L 140.172319 769.643821 
L 147.508841 768.397106 
L 154.845362 766.905342 
L 162.181884 765.15908 
L 169.518406 763.148872 
L 176.854928 760.865273 
L 184.191449 758.298834 
L 191.527971 755.440108 
L 198.864493 752.279647 
L 206.201014 748.808005 
L 213.537536 745.015733 
L 220.874058 740.893385 
L 228.21058 736.443436 
L 235.547101 731.737185 
L 247.774638 723.584456 
L 262.447681 713.83874 
L 269.784203 709.205172 
L 277.120725 704.859088 
L 282.011739 702.168802 
L 286.902754 699.677375 
L 291.793768 697.409685 
L 296.684783 695.357203 
L 301.575797 693.493094 
L 308.912319 690.991022 
L 316.248841 688.760793 
L 326.03087 686.052396 
L 345.594928 680.734348 
L 352.931449 678.495363 
L 360.267971 675.992251 
L 367.604493 673.240267 
L 377.386522 669.293247 
L 411.623623 655.058305 
L 418.960145 652.343636 
L 426.296667 649.884638 
L 433.633188 647.696592 
L 440.96971 645.768527 
L 448.306232 644.089126 
L 455.642754 642.64707 
L 462.979275 641.431041 
L 470.315797 640.429722 
L 477.652319 639.631794 
L 484.988841 639.025939 
L 492.325362 638.602425 
L 499.661884 638.372136 
L 506.998406 638.360372 
L 514.334928 638.59273 
L 521.671449 639.094808 
L 529.007971 639.892202 
L 536.344493 641.010509 
L 541.235507 641.946973 
L 546.126522 643.045026 
L 551.017536 644.312252 
L 555.908551 645.756045 
L 560.799565 647.374539 
L 568.136087 650.096475 
L 575.472609 653.123062 
L 582.80913 656.399871 
L 592.591159 661.064107 
L 604.818696 667.187328 
L 626.828261 678.274124 
L 641.501304 685.348882 
L 661.065362 694.495976 
L 702.638986 713.841335 
L 758.885652 740.338496 
L 776.004203 748.100283 
L 790.677246 754.521012 
L 802.904783 759.665612 
L 815.132319 764.588788 
L 820.023333 766.488888 
L 820.023333 766.488888 
" clip-path="url(#p971d4a2447)" style="fill: none; stroke-dasharray: 11.1,4.8; stroke-dashoffset: 0; stroke: #c0c6ca; stroke-width: 3"/>
</g>
<g id="patch_45">
<path d="M 56.5 815.5 
L 56.5 602.5 
" style="fill: none; stroke: #000000; stroke-width: 0.8; stroke-linejoin: miter; stroke-linecap: square"/>
</g>
<g id="patch_46">
<path d="M 853.5 815.5 
L 853.5 602.5 
" style="fill: none; stroke: #000000; stroke-width: 0.8; stroke-linejoin: miter; stroke-linecap: square"/>
</g>
<g id="patch_47">
<path d="M 56.5 815.5 
L 853.5 815.5 
" style="fill: none; stroke: #000000; stroke-width: 0.8; stroke-linejoin: miter; stroke-linecap: square"/>
</g>
<g id="patch_48">
<path d="M 56.5 602.5 
L 853.5 602.5 
" style="fill: none; stroke: #000000; stroke-width: 0.8; stroke-linejoin: miter; stroke-linecap: square"/>
</g>
<g id="text_61">
<text style="font-size: 14.49px; font-family: 'Liberation Sans', sans-serif; text-anchor: middle" x="454.42" y="596" transform="rotate(-0 454.42 596)" textLength="149.62" lengthAdjust="spacingAndGlyphs">Monthly Temperature</text>
</g>
<g id="legend_3">
<g id="patch_49">
<path d="M 757.635 670 
L 846.26 670 
Q 848.26 670 848.26 668 
L 848.26 609 
Q 848.26 607 846.26 607 
L 757.635 607 
Q 755.635 607 755.635 609 
L 755.635 668 
Q 755.635 670 757.635 670 
z
" style="fill: #ffffff; opacity: 0.8; stroke: #cccccc; stroke-linejoin: miter"/>
</g>
<g id="line2d_111">
<path d="M 759.635 615.5 
L 769.635 615.5 
L 779.635 615.5 
" style="fill: none; stroke: #ff6419; stroke-width: 3; stroke-linecap: square"/>
</g>
<g id="text_62">
<text style="font-size: 10.35px; font-family: 'Liberation Sans', sans-serif; text-anchor: start" x="787.635" y="619" transform="rotate(-0 787.635 619)" textLength="56.62" lengthAdjust="spacingAndGlyphs">Temp Mean</text>
</g>
<g id="line2d_112">
<path d="M 759.635 630.5 
L 769.635 630.5 
L 779.635 630.5 
" style="fill: none; stroke: #ffc7a1; stroke-opacity: 0.5; stroke-width: 3; stroke-linecap: square"/>
</g>
<g id="text_63">
<text style="font-size: 10.35px; font-family: 'Liberation Sans', sans-serif; text-anchor: start" x="787.635" y="634" transform="rotate(-0 787.635 634)" textLength="47.25" lengthAdjust="spacingAndGlyphs">Temp Min</text>
</g>
<g id="line2d_113">
<path d="M 759.635 645.5 
L 769.635 645.5 
L 779.635 645.5 
" style="fill: none; stroke: #f9b14d; stroke-opacity: 0.5; stroke-width: 3; stroke-linecap: square"/>
</g>
<g id="text_64">
<text style="font-size: 10.35px; font-family: 'Liberation Sans', sans-serif; text-anchor: start" x="787.635" y="649" transform="rotate(-0 787.635 649)" textLength="50.00" lengthAdjust="spacingAndGlyphs">Temp Max</text>
</g>
<g id="line2d_114">
<path d="M 759.635 660.5 
L 769.635 660.5 
L 779.635 660.5 
" style="fill: none; stroke-dasharray: 11.1,4.8; stroke-dashoffset: 0; stroke: #c0c6ca; stroke-width: 3"/>
</g>
<g id="text_65">
<text style="font-size: 10.35px; font-family: 'Liberation Sans', sans-serif; text-anchor: start" x="787.635" y="664" transform="rotate(-0 787.635 664)" textLength="45.62" lengthAdjust="spacingAndGlyphs">Temp LTA</text>
</g>
</g>
</g>
<g id="axes_4">
<g id="patch_50">
<path d="M 55.58 1090 
L 853.26 1090 
L 853.26 877 
L 55.58 877 
z
" style="fill: #ffffff"/>
</g>
<g id="matplotlib.axis_7">
<g id="xtick_35">
<g id="line2d_115">
<path d="M 92.5 1090.5 
L 92.5 877.5 
" clip-path="url(#p4730269cea)" style="fill: none; stroke-dasharray: 1.85,0.8; stroke-dashoffset: 0; stroke: #b0b0b0; stroke-opacity: 0.3; stroke-width: 0.5"/>
</g>
<g id="line2d_116">
<g>
<use href="#m7c25c535dc" x="92.5" y="1090.5" style="stroke: #000000; stroke-width: 0.8"/>
</g>
</g>
<g id="text_66">
<text style="font-size: 10.35px; font-family: 'Liberation Sans', sans-serif" transform="translate(83.874078 1123.251339) rotate(-45)" textLength="29.12" lengthAdjust="spacingAndGlyphs">12-16</text>
</g>
</g>
<g id="xtick_36">
<g id="line2d_117">
<path d="M 173.5 1090.5 
L 173.5 877.5 
" clip-path="url(#p4730269cea)" style="fill: none; stroke-dasharray: 1.85,0.8; stroke-dashoffset: 0; stroke: #b0b0b0; stroke-opacity: 0.3; stroke-width: 0.5"/>
</g>
<g id="line2d_118">
<g>
<use href="#m7c25c535dc" x="173.5" y="1090.5" style="stroke: #000000; stroke-width: 0.8"/>
</g>
</g>
<g id="text_67">
<text style="font-size: 10.35px; font-family: 'Liberation Sans', sans-serif" transform="translate(164.447815 1123.251339) rotate(-45)" textLength="29.12" lengthAdjust="spacingAndGlyphs">12-19</text>
</g>
</g>
<g id="xtick_37">
<g id="line2d_119">
<path d="M 253.5 1090.5 
L 253.5 877.5 
" clip-path="url(#p4730269cea)" style="fill: none; stroke-dasharray: 1.85,0.8; stroke-dashoffset: 0; stroke: #b0b0b0; stroke-opacity: 0.3; stroke-width: 0.5"/>
</g>
<g id="line2d_120">
<g>
<use href="#m7c25c535dc" x="253.5" y="1090.5" style="stroke: #000000; stroke-width: 0.8"/>
</g>
</g>
<g id="text_68">
<text style="font-size: 10.35px; font-family: 'Liberation Sans', sans-serif" transform="translate(245.021553 1123.251339) rotate(-45)" textLength="29.12" lengthAdjust="spacingAndGlyphs">12-22</text>
</g>
</g>
<g id="xtick_38">
<g id="line2d_121">
<path d="M 334.5 1090.5 
L 334.5 877.5 
" clip-path="url(#p4730269cea)" style="fill: none; stroke-dasharray: 1.85,0.8; stroke-dashoffset: 0; stroke: #b0b0b0; stroke-opacity: 0.3; stroke-width: 0.5"/>
</g>
<g id="line2d_122">
<g>
<use href="#m7c25c535dc" x="334.5" y="1090.5" style="stroke: #000000; stroke-width: 0.8"/>
</g>
</g>
<g id="text_69">
<text style="font-size: 10.35px; font-family: 'Liberation Sans', sans-serif" transform="translate(325.59529 1123.251339) rotate(-45)" textLength="29.12" lengthAdjust="spacingAndGlyphs">12-25</text>
</g>
</g>
<g id="xtick_39">
<g id="line2d_123">
<path d="M 414.5 1090.5 
L 414.5 877.5 
" clip-path="url(#p4730269cea)" style="fill: none; stroke-dasharray: 1.85,0.8; stroke-dashoffset: 0; stroke: #b0b0b0; stroke-opacity: 0.3; stroke-width: 0.5"/>
</g>
<g id="line2d_124">
<g>
<use href="#m7c25c535dc" x="414.5" y="1090.5" style="stroke: #000000; stroke-width: 0.8"/>
</g>
</g>
<g id="text_70">
<text style="font-size: 10.35px; font-family: 'Liberation Sans', sans-serif" transform="translate(406.213222 1123.162951) rotate(-45)" textLength="29.00" lengthAdjust="spacingAndGlyphs">12-28</text>
</g>
</g>
<g id="xtick_40">
<g id="line2d_125">
<path d="M 495.5 1090.5 
L 495.5 877.5 
" clip-path="url(#p4730269cea)" style="fill: none; stroke-dasharray: 1.85,0.8; stroke-dashoffset: 0; stroke: #b0b0b0; stroke-opacity: 0.3; stroke-width: 0.5"/>
</g>
<g id="line2d_126">
<g>
<use href="#m7c25c535dc" x="495.5" y="1090.5" style="stroke: #000000; stroke-width: 0.8"/>
</g>
</g>
<g id="text_71">
<text style="font-size: 10.35px; font-family: 'Liberation Sans', sans-serif" transform="translate(486.786959 1123.162951) rotate(-45)" textLength="29.00" lengthAdjust="spacingAndGlyphs">12-31</text>
</g>
</g>
<g id="xtick_41">
<g id="line2d_127">
<path d="M 575.5 1090.5 
L 575.5 877.5 
" clip-path="url(#p4730269cea)" style="fill: none; stroke-dasharray: 1.85,0.8; stroke-dashoffset: 0; stroke: #b0b0b0; stroke-opacity: 0.3; stroke-width: 0.5"/>
</g>
<g id="line2d_128">
<g>
<use href="#m7c25c535dc" x="575.5" y="1090.5" style="stroke: #000000; stroke-width: 0.8"/>
</g>
</g>
<g id="text_72">
<text style="font-size: 10.35px; font-family: 'Liberation Sans', sans-serif" transform="translate(567.449085 1122.986174) rotate(-45)" textLength="28.75" lengthAdjust="spacingAndGlyphs">01-03</text>
</g>
</g>
<g id="xtick_42">
<g id="line2d_129">
<path d="M 656.5 1090.5 
L 656.5 877.5 
" clip-path="url(#p4730269cea)" style="fill: none; stroke-dasharray: 1.85,0.8; stroke-dashoffset: 0; stroke: #b0b0b0; stroke-opacity: 0.3; stroke-width: 0.5"/>
</g>
<g id="line2d_130">
<g>
<use href="#m7c25c535dc" x="656.5" y="1090.5" style="stroke: #000000; stroke-width: 0.8"/>
</g>
</g>
<g id="text_73">
<text style="font-size: 10.35px; font-family: 'Liberation Sans', sans-serif" transform="translate(647.978628 1123.074563) rotate(-45)" textLength="28.88" lengthAdjust="spacingAndGlyphs">01-06</text>
</g>
</g>
<g id="xtick_43">
<g id="line2d_131">
<path d="M 737.5 1090.5 
L 737.5 877.5 
" clip-path="url(#p4730269cea)" style="fill: none; stroke-dasharray: 1.85,0.8; stroke-dashoffset: 0; stroke: #b0b0b0; stroke-opacity: 0.3; stroke-width: 0.5"/>
</g>
<g id="line2d_132">
<g>
<use href="#m7c25c535dc" x="737.5" y="1090.5" style="stroke: #000000; stroke-width: 0.8"/>
</g>
</g>
<g id="text_74">
<text style="font-size: 10.35px; font-family: 'Liberation Sans', sans-serif" transform="translate(728.552365 1123.074563) rotate(-45)" textLength="28.88" lengthAdjust="spacingAndGlyphs">01-09</text>
</g>
</g>
<g id="xtick_44">
<g id="line2d_133">
<path d="M 817.5 1090.5 
L 817.5 877.5 
" clip-path="url(#p4730269cea)" style="fill: none; stroke-dasharray: 1.85,0.8; stroke-dashoffset: 0; stroke: #b0b0b0; stroke-opacity: 0.3; stroke-width: 0.5"/>
</g>
<g id="line2d_134">
<g>
<use href="#m7c25c535dc" x="817.5" y="1090.5" style="stroke: #000000; stroke-width: 0.8"/>
</g>
</g>
<g id="text_75">
<text style="font-size: 10.35px; font-family: 'Liberation Sans', sans-serif" transform="translate(809.081908 1123.162951) rotate(-45)" textLength="29.00" lengthAdjust="spacingAndGlyphs">01-12</text>
</g>
</g>
<g id="text_76">
<text style="font-size: 12.42px; font-family: 'Liberation Sans', sans-serif; text-anchor: middle" x="454.42" y="1138.665553" transform="rotate(-0 454.42 1138.665553)" textLength="28.88" lengthAdjust="spacingAndGlyphs">Date</text>
</g>
</g>
<g id="matplotlib.axis_8">
<g id="ytick_18">
<g id="line2d_135">
<path d="M 56.5 1074.5 
L 853.5 1074.5 
" clip-path="url(#p4730269cea)" style="fill: none; stroke-dasharray: 1.85,0.8; stroke-dashoffset: 0; stroke: #b0b0b0; stroke-opacity: 0.3; stroke-width: 0.5"/>
</g>
<g id="line2d_136">
<g>
<use href="#mb258c49b38" x="56.5" y="1074.5" style="stroke: #000000; stroke-width: 0.8"/>
</g>
</g>
<g id="text_77">
<text style="font-size: 10.35px; font-family: 'Liberation Sans', sans-serif; text-anchor: end" x="48.58" y="1077.702944" transform="rotate(-0 48.58 1077.702944)" textLength="21.12" lengthAdjust="spacingAndGlyphs">−12</text>
</g>
</g>
<g id="ytick_19">
<g id="line2d_137">
<path d="M 56.5 1048.5 
L 853.5 1048.5 
" clip-path="url(#p4730269cea)" style="fill: none; stroke-dasharray: 1.85,0.8; stroke-dashoffset: 0; stroke: #b0b0b0; stroke-opacity: 0.3; stroke-width: 0.5"/>
</g>
<g id="line2d_138">
<g>
<use href="#mb258c49b38" x="56.5" y="1048.5" style="stroke: #000000; stroke-width: 0.8"/>
</g>
</g>
<g id="text_78">
<text style="font-size: 10.35px; font-family: 'Liberation Sans', sans-serif; text-anchor: end" x="48.58" y="1051.760833" transform="rotate(-0 48.58 1051.760833)" textLength="21.00" lengthAdjust="spacingAndGlyphs">−10</text>
</g>
</g>
<g id="ytick_20">
<g id="line2d_139">
<path d="M 56.5 1022.5 
L 853.5 1022.5 
" clip-path="url(#p4730269cea)" style="fill: none; stroke-dasharray: 1.85,0.8; stroke-dashoffset: 0; stroke: #b0b0b0; stroke-opacity: 0.3; stroke-width: 0.5"/>
</g>
<g id="line2d_140">
<g>
<use href="#mb258c49b38" x="56.5" y="1022.5" style="stroke: #000000; stroke-width: 0.8"/>
</g>
</g>
<g id="text_79">
<text style="font-size: 10.35px; font-family: 'Liberation Sans', sans-serif; text-anchor: end" x="48.58" y="1025.818722" transform="rotate(-0 48.58 1025.818722)" textLength="14.62" lengthAdjust="spacingAndGlyphs">−8</text>
</g>
</g>
<g id="ytick_21">
<g id="line2d_141">
<path d="M 56.5 996.5 
L 853.5 996.5 
" clip-path="url(#p4730269cea)" style="fill: none; stroke-dasharray: 1.85,0.8; stroke-dashoffset: 0; stroke: #b0b0b0; stroke-opacity: 0.3; stroke-width: 0.5"/>
</g>
<g id="line2d_142">
<g>
<use href="#mb258c49b38" x="56.5" y="996.5" style="stroke: #000000; stroke-width: 0.8"/>
</g>
</g>
<g id="text_80">
<text style="font-size: 10.35px; font-family: 'Liberation Sans', sans-serif; text-anchor: end" x="48.58" y="999.876611" transform="rotate(-0 48.58 999.876611)" textLength="14.75" lengthAdjust="spacingAndGlyphs">−6</text>
</g>
</g>
<g id="ytick_22">
<g id="line2d_143">
<path d="M 56.5 970.5 
L 853.5 970.5 
" clip-path="url(#p4730269cea)" style="fill: none; stroke-dasharray: 1.85,0.8; stroke-dashoffset: 0; stroke: #b0b0b0; stroke-opacity: 0.3; stroke-width: 0.5"/>
</g>
<g id="line2d_144">
<g>
<use href="#mb258c49b38" x="56.5" y="970.5" style="stroke: #000000; stroke-width: 0.8"/>
</g>
</g>
<g id="text_81">
<text style="font-size: 10.35px; font-family: 'Liberation Sans', sans-serif; text-anchor: end" x="48.58" y="973.9345" transform="rotate(-0 48.58 973.9345)" textLength="14.62" lengthAdjust="spacingAndGlyphs">−4</text>
</g>
</g>
<g id="ytick_23">
<g id="line2d_145">
<path d="M 56.5 944.5 
L 853.5 944.5 
" clip-path="url(#p4730269cea)" style="fill: none; stroke-dasharray: 1.85,0.8; stroke-dashoffset: 0; stroke: #b0b0b0; stroke-opacity: 0.3; stroke-width: 0.5"/>
</g>
<g id="line2d_146">
<g>
<use href="#mb258c49b38" x="56.5" y="944.5" style="stroke: #000000; stroke-width: 0.8"/>
</g>
</g>
<g id="text_82">
<text style="font-size: 10.35px; font-family: 'Liberation Sans', sans-serif; text-anchor: end" x="48.58" y="947.992389" transform="rotate(-0 48.58 947.992389)" textLength="14.75" lengthAdjust="spacingAndGlyphs">−2</text>
</g>
</g>
<g id="ytick_24">
<g id="line2d_147">
<path d="M 56.5 918.5 
L 853.5 918.5 
" clip-path="url(#p4730269cea)" style="fill: none; stroke-dasharray: 1.85,0.8; stroke-dashoffset: 0; stroke: #b0b0b0; stroke-opacity: 0.3; stroke-width: 0.5"/>
</g>
<g id="line2d_148">
<g>
<use href="#mb258c49b38" x="56.5" y="918.5" style="stroke: #000000; stroke-width: 0.8"/>
</g>
</g>
<g id="text_83">
<text style="font-size: 10.35px; font-family: 'Liberation Sans', sans-serif; text-anchor: end" x="48.58" y="922.050279" transform="rotate(-0 48.58 922.050279)" textLength="6.25" lengthAdjust="spacingAndGlyphs">0</text>
</g>
</g>
<g id="ytick_25">
<g id="line2d_149">
<path d="M 56.5 892.5 
L 853.5 892.5 
" clip-path="url(#p4730269cea)" style="fill: none; stroke-dasharray: 1.85,0.8; stroke-dashoffset: 0; stroke: #b0b0b0; stroke-opacity: 0.3; stroke-width: 0.5"/>
</g>
<g id="line2d_150">
<g>
<use href="#mb258c49b38" x="56.5" y="892.5" style="stroke: #000000; stroke-width: 0.8"/>
</g>
</g>
<g id="text_84">
<text style="font-size: 10.35px; font-family: 'Liberation Sans', sans-serif; text-anchor: end" x="48.58" y="896.108168" transform="rotate(-0 48.58 896.108168)" textLength="6.38" lengthAdjust="spacingAndGlyphs">2</text>
</g>
</g>
<g id="text_85">
<text style="font-size: 12.42px; font-family: 'Liberation Sans', sans-serif; text-anchor: middle" x="20.455" y="983.5" transform="rotate(-90 20.455 983.5)" textLength="104.00" lengthAdjust="spacingAndGlyphs">Temperature (°C)</text>
</g>
</g>
<g id="line2d_151">
<path d="M 92.05 999.638217 
L 94.475296 990.957134 
L 96.900593 983.264978 
L 99.325889 976.494768 
L 101.751186 970.579519 
L 104.176482 965.452249 
L 106.601779 961.045975 
L 109.027075 957.293713 
L 111.452372 954.12848 
L 113.877668 951.483294 
L 116.302964 949.291171 
L 118.728261 947.485129 
L 121.153557 945.998183 
L 123.578854 944.763352 
L 128.429447 942.782099 
L 135.705336 940.026497 
L 138.130632 938.897706 
L 140.555929 937.552147 
L 142.981225 935.922837 
L 145.406522 933.942793 
L 147.831818 931.566011 
L 150.257115 928.878091 
L 157.533004 920.313193 
L 159.9583 917.74663 
L 162.383597 915.551993 
L 164.808893 913.865916 
L 167.23419 912.825035 
L 169.659486 912.565984 
L 172.084783 913.225398 
L 174.510079 914.916847 
L 176.935375 917.570726 
L 179.360672 921.03008 
L 181.785968 925.137417 
L 184.211265 929.735243 
L 189.061858 939.772392 
L 193.912451 949.881583 
L 196.337747 954.569462 
L 198.763043 958.802872 
L 201.18834 962.435029 
L 203.613636 965.428262 
L 206.038933 967.808634 
L 208.464229 969.603005 
L 210.889526 970.838239 
L 213.314822 971.541197 
L 215.740119 971.738741 
L 218.165415 971.457732 
L 220.590711 970.725032 
L 223.016008 969.567503 
L 225.441304 968.012006 
L 227.866601 966.086464 
L 230.291897 963.832934 
L 232.717194 961.303539 
L 235.14249 958.550617 
L 239.993083 952.583547 
L 249.694269 940.269971 
L 252.119565 937.417834 
L 254.544862 934.763226 
L 256.970158 932.403016 
L 259.395455 930.470561 
L 261.820751 929.100419 
L 264.246047 928.427148 
L 266.671344 928.585308 
L 269.09664 929.709456 
L 271.521937 931.934152 
L 273.947233 935.393954 
L 276.37253 940.223421 
L 278.797826 946.557111 
L 281.223123 954.520785 
L 283.648419 964.019077 
L 286.073715 974.724553 
L 290.924308 998.403362 
L 295.774901 1022.849821 
L 298.200198 1034.514859 
L 300.625494 1045.356537 
L 303.050791 1055.036432 
L 305.476087 1063.216119 
L 307.901383 1069.563039 
L 310.32668 1073.962928 
L 312.751976 1076.579629 
L 315.177273 1077.595032 
L 317.602569 1077.191024 
L 320.027866 1075.549495 
L 322.453162 1072.852333 
L 324.878458 1069.281427 
L 327.303755 1065.018665 
L 329.729051 1060.245937 
L 334.579644 1049.897235 
L 341.855534 1034.19887 
L 346.706126 1024.149899 
L 351.556719 1014.770996 
L 353.982016 1010.423028 
L 356.407312 1006.350829 
L 358.832609 1002.590481 
L 361.257905 999.177901 
L 363.683202 996.130371 
L 366.108498 993.429894 
L 368.533794 991.054545 
L 370.959091 988.982398 
L 373.384387 987.191527 
L 375.809684 985.660005 
L 378.23498 984.365907 
L 380.660277 983.287307 
L 383.085573 982.402278 
L 385.51087 981.688895 
L 387.936166 981.125221 
L 392.786759 980.341757 
L 404.913241 978.904204 
L 407.338538 978.449648 
L 409.763834 977.864633 
L 412.18913 977.117113 
L 414.614427 976.175069 
L 419.46502 973.785616 
L 424.315613 971.34579 
L 426.740909 970.356201 
L 429.166206 969.653075 
L 431.591502 969.336096 
L 434.016798 969.50495 
L 436.442095 970.259323 
L 438.867391 971.698899 
L 441.292688 973.923362 
L 443.717984 976.984487 
L 446.143281 980.76254 
L 448.568577 985.099424 
L 453.41917 994.817293 
L 458.269763 1004.873313 
L 460.695059 1009.632884 
L 463.120356 1014.002699 
L 465.545652 1017.82466 
L 467.970949 1020.94067 
L 470.396245 1023.232839 
L 472.821542 1024.76303 
L 475.246838 1025.643317 
L 477.672134 1025.985776 
L 480.097431 1025.902483 
L 482.522727 1025.505514 
L 487.37332 1024.218849 
L 489.798617 1023.553306 
L 492.223913 1023.022391 
L 494.649209 1022.738178 
L 497.074506 1022.793561 
L 499.499802 1023.174084 
L 501.925099 1023.827975 
L 504.350395 1024.703423 
L 509.200988 1026.911748 
L 518.902174 1031.707418 
L 521.32747 1032.68307 
L 523.752767 1033.466749 
L 526.178063 1034.014328 
L 528.60336 1034.284572 
L 531.028656 1034.236259 
L 533.453953 1033.828164 
L 535.879249 1033.019065 
L 538.304545 1031.767738 
L 540.729842 1030.03296 
L 543.155138 1027.773508 
L 545.580435 1024.948159 
L 548.005731 1021.515688 
L 550.431028 1017.446484 
L 552.856324 1012.81517 
L 555.281621 1007.751417 
L 560.132213 996.847279 
L 564.982806 985.775439 
L 567.408103 980.502058 
L 569.833399 975.577263 
L 572.258696 971.131225 
L 574.683992 967.294115 
L 577.109289 964.184733 
L 579.534585 961.789692 
L 581.959881 960.010322 
L 584.385178 958.746534 
L 586.810474 957.898237 
L 589.235771 957.365341 
L 591.661067 957.047755 
L 598.936957 956.385955 
L 601.362253 955.928706 
L 603.787549 955.193176 
L 606.212846 954.191851 
L 615.914032 949.46027 
L 618.339328 948.584294 
L 620.764625 948.026483 
L 623.189921 947.884534 
L 625.615217 948.256144 
L 628.040514 949.239013 
L 628.040514 949.239013 
" clip-path="url(#p4730269cea)" style="fill: none; stroke: #ff6419; stroke-width: 3; stroke-linecap: square"/>
</g>
<g id="line2d_152">
<path d="M 630.46581 950.924609 
L 632.891107 953.272881 
L 635.316403 956.118457 
L 637.7417 959.290979 
L 640.166996 962.62009 
L 642.592292 965.935431 
L 645.017589 969.066646 
L 647.442885 971.843374 
L 649.868182 974.09526 
L 652.293478 975.651945 
L 654.718775 976.343071 
L 657.144071 976.002992 
L 659.569368 974.608952 
L 661.994664 972.30339 
L 664.41996 969.237949 
L 666.845257 965.564271 
L 669.270553 961.433998 
L 671.69585 956.998771 
L 674.121146 952.410234 
L 676.546443 947.820027 
L 678.971739 943.379794 
L 681.397036 939.241175 
L 683.822332 935.554131 
L 686.247628 932.39011 
L 688.672925 929.710283 
L 691.098221 927.467548 
L 693.523518 925.614809 
L 695.948814 924.104966 
L 698.374111 922.89092 
L 700.799407 921.925572 
L 703.224704 921.161824 
L 705.65 920.552576 
L 708.075296 920.05073 
L 710.500593 919.609597 
L 712.925889 919.215242 
L 715.351186 918.909804 
L 717.776482 918.740925 
L 720.201779 918.756246 
L 722.627075 919.003408 
L 725.052372 919.530054 
L 727.477668 920.383825 
L 729.902964 921.612363 
L 732.328261 923.263309 
L 734.753557 925.384305 
L 737.178854 928.022703 
L 739.60415 931.178973 
L 742.029447 934.755263 
L 744.454743 938.641344 
L 746.88004 942.726986 
L 749.305336 946.90196 
L 751.730632 951.056034 
L 754.155929 955.07898 
L 756.581225 958.860568 
L 759.006522 962.290567 
L 761.431818 965.258749 
L 763.857115 967.654987 
L 766.282411 969.417688 
L 768.707708 970.610683 
L 771.133004 971.317793 
L 773.5583 971.62284 
L 775.983597 971.609648 
L 778.408893 971.362039 
L 780.83419 970.963835 
L 783.259486 970.498859 
L 785.684783 970.050933 
L 788.110079 969.70388 
L 790.535375 969.541521 
L 792.960672 969.64768 
L 795.385968 970.106179 
L 797.811265 971.00084 
L 800.236561 972.415486 
L 802.661858 974.433939 
L 805.087154 977.140022 
L 807.512451 980.617557 
L 809.937747 984.950366 
L 812.363043 990.222272 
L 814.78834 996.517098 
L 817.213636 1003.918665 
" clip-path="url(#p4730269cea)" style="fill: none; stroke-dasharray: 3,4.95; stroke-dashoffset: 0; stroke: #ff6419; stroke-width: 3"/>
</g>
<g id="line2d_153">
<path d="M 92.05 959.168524 
L 94.475296 959.048361 
L 96.900593 958.47723 
L 99.325889 957.50525 
L 101.751186 956.182543 
L 104.176482 954.559227 
L 106.601779 952.685422 
L 109.027075 950.611249 
L 113.877668 946.062274 
L 121.153557 938.989038 
L 126.00415 934.691763 
L 128.429447 932.818949 
L 130.854743 931.196844 
L 133.28004 929.875568 
L 135.705336 928.90524 
L 138.130632 928.335981 
L 140.555929 928.217909 
L 142.981225 928.601146 
L 145.406522 929.53581 
L 147.831818 931.053556 
L 150.257115 933.070196 
L 152.682411 935.456718 
L 157.533004 940.822971 
L 162.383597 946.119444 
L 164.808893 948.418741 
L 167.23419 950.313266 
L 169.659486 951.67391 
L 172.084783 952.371564 
L 174.510079 952.297164 
L 176.935375 951.500821 
L 179.360672 950.108556 
L 181.785968 948.246858 
L 184.211265 946.042214 
L 193.912451 936.323946 
L 196.337747 934.301897 
L 198.763043 932.695831 
L 201.18834 931.621741 
L 203.613636 931.088672 
L 206.038933 931.043197 
L 208.464229 931.431111 
L 210.889526 932.198205 
L 213.314822 933.290272 
L 215.740119 934.653104 
L 218.165415 936.232493 
L 223.016008 939.824113 
L 235.14249 949.224218 
L 242.418379 954.606275 
L 249.694269 959.758941 
L 256.970158 964.665011 
L 269.09664 972.497388 
L 278.797826 978.820275 
L 286.073715 983.64939 
L 288.499012 985.101465 
L 290.924308 986.376926 
L 293.349605 987.416945 
L 295.774901 988.162694 
L 298.200198 988.555344 
L 300.625494 988.536068 
L 303.050791 988.046037 
L 305.476087 987.026424 
L 307.901383 985.420171 
L 310.32668 983.236166 
L 312.751976 980.567306 
L 315.177273 977.511939 
L 317.602569 974.168414 
L 329.729051 956.570629 
L 332.154348 953.56348 
L 334.579644 950.955842 
L 337.004941 948.798927 
L 339.430237 947.072087 
L 341.855534 945.748491 
L 344.28083 944.80131 
L 346.706126 944.203712 
L 349.131423 943.928867 
L 351.556719 943.949944 
L 353.982016 944.240114 
L 356.407312 944.772545 
L 358.832609 945.520407 
L 361.257905 946.456901 
L 363.683202 947.558628 
L 366.108498 948.808628 
L 370.959091 951.688483 
L 375.809684 954.966532 
L 383.085573 960.345991 
L 392.786759 967.691128 
L 397.637352 971.102251 
L 402.487945 974.115658 
L 404.913241 975.420477 
L 407.338538 976.562577 
L 409.763834 977.520861 
L 412.18913 978.274234 
L 414.614427 978.801606 
L 417.039723 979.090687 
L 419.46502 979.154488 
L 421.890316 979.010544 
L 424.315613 978.676389 
L 426.740909 978.169555 
L 429.166206 977.507577 
L 431.591502 976.707988 
L 436.442095 974.766115 
L 441.292688 972.484205 
L 446.143281 969.962835 
L 450.993874 967.152379 
L 455.844466 963.967693 
L 460.695059 960.323632 
L 463.120356 958.302728 
L 465.545652 956.135051 
L 467.970949 953.809957 
L 472.821542 948.738332 
L 480.097431 940.95997 
L 482.522727 938.575338 
L 484.948024 936.400508 
L 487.37332 934.498914 
L 489.798617 932.933989 
L 492.223913 931.769168 
L 494.649209 931.067885 
L 497.074506 930.875403 
L 499.499802 931.135302 
L 501.925099 931.755813 
L 504.350395 932.645134 
L 509.200988 934.862985 
L 514.051581 937.054425 
L 516.476877 937.91073 
L 518.902174 938.485021 
L 521.32747 938.685493 
L 523.752767 938.43715 
L 526.178063 937.783473 
L 528.60336 936.818878 
L 533.453953 934.335381 
L 538.304545 931.743561 
L 540.729842 930.643563 
L 543.155138 929.800321 
L 545.580435 929.30845 
L 548.005731 929.262562 
L 550.431028 929.745651 
L 552.856324 930.736399 
L 555.281621 932.158402 
L 557.706917 933.934752 
L 560.132213 935.988546 
L 564.982806 940.620845 
L 569.833399 945.440057 
L 572.258696 947.727494 
L 574.683992 949.830945 
L 577.109289 951.679444 
L 579.534585 953.27108 
L 581.959881 954.648489 
L 584.385178 955.855051 
L 589.235771 957.929152 
L 596.51166 960.843442 
L 598.936957 961.935894 
L 601.362253 963.161157 
L 603.787549 964.559622 
L 608.638142 967.817465 
L 620.764625 976.667254 
L 623.189921 978.216136 
L 625.615217 979.591586 
L 628.040514 980.75086 
L 630.46581 981.653412 
L 632.891107 982.305163 
L 635.316403 982.756309 
L 640.166996 983.264617 
L 647.442885 983.821487 
L 649.868182 984.160117 
L 652.293478 984.661846 
L 654.718775 985.378633 
L 657.144071 986.361112 
L 659.569368 987.619804 
L 661.994664 989.118855 
L 664.41996 990.819827 
L 669.270553 994.673781 
L 683.822332 1007.08453 
L 688.672925 1010.568763 
L 693.523518 1013.553587 
L 698.374111 1016.055647 
L 703.224704 1018.091593 
L 708.075296 1019.678071 
L 712.925889 1020.832752 
L 717.776482 1021.586039 
L 722.627075 1021.976962 
L 727.477668 1022.044716 
L 732.328261 1021.828497 
L 737.178854 1021.3675 
L 742.029447 1020.701569 
L 749.305336 1019.409771 
L 759.006522 1017.361364 
L 771.133004 1014.775537 
L 775.983597 1013.936404 
L 780.83419 1013.329792 
L 785.684783 1013.037149 
L 790.535375 1013.139923 
L 792.960672 1013.365043 
L 795.385968 1013.71956 
L 797.811265 1014.213656 
L 800.236561 1014.857509 
L 802.661858 1015.661303 
L 805.087154 1016.635218 
L 807.512451 1017.789434 
L 809.937747 1019.134132 
L 812.363043 1020.679494 
L 814.78834 1022.435701 
L 817.213636 1024.412933 
L 817.213636 1024.412933 
" clip-path="url(#p4730269cea)" style="fill: none; stroke-dasharray: 11.1,4.8; stroke-dashoffset: 0; stroke: #c0c6ca; stroke-width: 3"/>
</g>
<g id="line2d_154">
<path d="M 92.05 988.093978 
L 96.900593 982.778276 
L 101.751186 977.984828 
L 104.176482 975.801304 
L 106.601779 973.76917 
L 109.027075 971.895369 
L 111.452372 970.186842 
L 113.877668 968.650533 
L 116.302964 967.293382 
L 118.728261 966.122334 
L 121.153557 965.144329 
L 123.578854 964.366311 
L 126.00415 963.795221 
L 128.429447 963.438002 
L 130.854743 963.301596 
L 133.28004 963.392946 
L 135.705336 963.718993 
L 138.130632 964.286681 
L 140.555929 965.102951 
L 142.981225 966.174746 
L 145.406522 967.509007 
L 147.831818 969.104668 
L 150.257115 970.9104 
L 162.383597 980.612261 
L 164.808893 982.191571 
L 167.23419 983.485292 
L 169.659486 984.42261 
L 172.084783 984.93271 
L 174.510079 984.956764 
L 176.935375 984.531144 
L 179.360672 983.737616 
L 181.785968 982.658228 
L 186.636561 979.970059 
L 191.487154 977.123015 
L 193.912451 975.845033 
L 196.337747 974.773474 
L 198.763043 973.990384 
L 201.18834 973.570812 
L 203.613636 973.518479 
L 206.038933 973.795443 
L 208.464229 974.363242 
L 210.889526 975.183414 
L 213.314822 976.217494 
L 215.740119 977.42702 
L 220.590711 980.218558 
L 232.717194 987.688914 
L 239.993083 991.824725 
L 247.268972 995.631124 
L 254.544862 999.082151 
L 264.246047 1003.279095 
L 271.521937 1006.492883 
L 276.37253 1008.838115 
L 281.223123 1011.450922 
L 288.499012 1015.645738 
L 290.924308 1016.932418 
L 293.349605 1018.080224 
L 295.774901 1019.039308 
L 298.200198 1019.759824 
L 300.625494 1020.191925 
L 303.050791 1020.285764 
L 305.476087 1019.991493 
L 307.901383 1019.260461 
L 310.32668 1018.088494 
L 312.751976 1016.52808 
L 315.177273 1014.635389 
L 317.602569 1012.466585 
L 320.027866 1010.077837 
L 324.878458 1004.865173 
L 332.154348 996.800763 
L 337.004941 991.902787 
L 339.430237 989.718185 
L 341.855534 987.740151 
L 344.28083 985.990998 
L 346.706126 984.493039 
L 349.131423 983.26859 
L 351.556719 982.339963 
L 353.982016 981.729474 
L 356.407312 981.459435 
L 358.832609 981.552161 
L 361.257905 982.029737 
L 363.683202 982.888901 
L 366.108498 984.078402 
L 368.533794 985.541642 
L 370.959091 987.222023 
L 375.809684 991.007819 
L 383.085573 996.900133 
L 385.51087 998.694812 
L 387.936166 1000.310529 
L 390.361462 1001.711258 
L 392.786759 1002.908639 
L 395.212055 1003.921077 
L 397.637352 1004.766973 
L 400.062648 1005.464733 
L 404.913241 1006.489451 
L 409.763834 1007.142459 
L 417.039723 1007.739496 
L 421.890316 1007.948661 
L 426.740909 1007.889166 
L 431.591502 1007.443227 
L 434.016798 1007.038533 
L 436.442095 1006.493059 
L 438.867391 1005.79208 
L 441.292688 1004.920876 
L 443.717984 1003.86806 
L 446.143281 1002.6342 
L 448.568577 1001.222535 
L 450.993874 999.636305 
L 453.41917 997.878751 
L 455.844466 995.953112 
L 458.269763 993.862629 
L 460.695059 991.610541 
L 465.545652 986.634512 
L 470.396245 981.06113 
L 477.672134 972.303065 
L 480.097431 969.559199 
L 482.522727 967.022539 
L 484.948024 964.764763 
L 487.37332 962.857547 
L 489.798617 961.37257 
L 492.223913 960.381507 
L 494.649209 959.956036 
L 497.074506 960.148311 
L 499.499802 960.901242 
L 501.925099 962.119762 
L 504.350395 963.708763 
L 506.775692 965.57314 
L 511.626285 969.747597 
L 516.476877 973.882282 
L 518.902174 975.696945 
L 521.32747 977.216346 
L 523.752767 978.359367 
L 526.178063 979.143492 
L 528.60336 979.628593 
L 531.028656 979.874708 
L 533.453953 979.941875 
L 538.304545 979.77951 
L 543.155138 979.621797 
L 545.580435 979.694778 
L 548.005731 979.949034 
L 550.431028 980.438357 
L 552.856324 981.160476 
L 555.281621 982.08351 
L 557.706917 983.175308 
L 562.55751 985.736604 
L 577.109289 994.130094 
L 581.959881 996.477792 
L 594.086364 1002.106254 
L 598.936957 1004.750348 
L 601.362253 1006.249694 
L 603.787549 1007.896597 
L 608.638142 1011.594766 
L 613.488735 1015.663766 
L 625.615217 1026.121594 
L 630.46581 1029.885052 
L 635.316403 1033.217292 
L 640.166996 1036.241833 
L 654.718775 1044.942274 
L 659.569368 1048.1845 
L 669.270553 1054.86285 
L 674.121146 1057.813691 
L 676.546443 1059.085568 
L 678.971739 1060.181192 
L 681.397036 1061.070146 
L 683.822332 1061.72265 
L 686.247628 1062.138639 
L 688.672925 1062.359787 
L 693.523518 1062.396778 
L 703.224704 1062.104055 
L 705.65 1062.215834 
L 708.075296 1062.491206 
L 710.500593 1062.974555 
L 712.925889 1063.676817 
L 715.351186 1064.55166 
L 720.201779 1066.611286 
L 725.052372 1068.737825 
L 727.477668 1069.696309 
L 729.902964 1070.515668 
L 732.328261 1071.143951 
L 734.753557 1071.529206 
L 737.178854 1071.619674 
L 739.60415 1071.394411 
L 742.029447 1070.897106 
L 744.454743 1070.179584 
L 749.305336 1068.29119 
L 756.581225 1065.102608 
L 759.006522 1064.152118 
L 761.431818 1063.344189 
L 763.857115 1062.730609 
L 766.282411 1062.346182 
L 768.707708 1062.181808 
L 771.133004 1062.221393 
L 773.5583 1062.448839 
L 775.983597 1062.848052 
L 778.408893 1063.402936 
L 780.83419 1064.097395 
L 785.684783 1065.840656 
L 790.535375 1067.949067 
L 797.811265 1071.514667 
L 807.512451 1076.345015 
L 812.363043 1078.503129 
L 817.213636 1080.318182 
L 817.213636 1080.318182 
" clip-path="url(#p4730269cea)" style="fill: none; stroke: #8ec8f8; stroke-opacity: 0.6; stroke-width: 2; stroke-linecap: square"/>
</g>
<g id="line2d_155">
<path d="M 92.05 935.301782 
L 94.475296 933.796762 
L 96.900593 932.043012 
L 99.325889 930.076248 
L 104.176482 925.646531 
L 109.027075 920.793324 
L 118.728261 910.959293 
L 123.578854 906.549896 
L 126.00415 904.597102 
L 128.429447 902.859862 
L 130.854743 901.373892 
L 133.28004 900.174905 
L 135.705336 899.298615 
L 138.130632 898.780737 
L 140.555929 898.656985 
L 142.981225 898.963073 
L 145.406522 899.734714 
L 147.831818 900.992573 
L 150.257115 902.662889 
L 152.682411 904.635363 
L 162.383597 913.339333 
L 164.808893 915.166964 
L 167.23419 916.634497 
L 169.659486 917.631559 
L 172.084783 918.047771 
L 174.510079 917.790361 
L 176.935375 916.906354 
L 179.360672 915.509437 
L 181.785968 913.71371 
L 184.211265 911.633273 
L 193.912451 902.746412 
L 196.337747 900.953915 
L 198.763043 899.561305 
L 201.18834 898.672966 
L 203.613636 898.294267 
L 206.038933 898.37275 
L 208.464229 898.855228 
L 210.889526 899.688517 
L 213.314822 900.81943 
L 215.740119 902.194783 
L 218.165415 903.761391 
L 223.016008 907.255626 
L 230.291897 912.642234 
L 237.567787 917.725366 
L 244.843676 922.560332 
L 256.970158 930.282433 
L 278.797826 944.079887 
L 286.073715 948.742155 
L 288.499012 950.113933 
L 290.924308 951.294249 
L 293.349605 952.222772 
L 295.774901 952.839171 
L 298.200198 953.083117 
L 300.625494 952.894278 
L 303.050791 952.212324 
L 305.476087 950.976925 
L 307.901383 949.129715 
L 310.32668 946.68544 
L 312.751976 943.751994 
L 315.177273 940.443314 
L 320.027866 933.155997 
L 324.878458 925.734986 
L 327.303755 922.259186 
L 329.729051 919.091774 
L 332.154348 916.346685 
L 334.579644 914.136835 
L 337.004941 912.513837 
L 339.430237 911.434287 
L 341.855534 910.846608 
L 344.28083 910.699221 
L 346.706126 910.940549 
L 349.131423 911.519015 
L 351.556719 912.383039 
L 353.982016 913.481045 
L 356.407312 914.761454 
L 361.257905 917.663318 
L 368.533794 922.382676 
L 375.809684 927.424233 
L 383.085573 932.744558 
L 397.637352 943.725982 
L 402.487945 946.925919 
L 404.913241 948.31541 
L 407.338538 949.527319 
L 409.763834 950.533698 
L 412.18913 951.306599 
L 414.614427 951.818085 
L 417.039723 952.050611 
L 419.46502 952.016534 
L 421.890316 951.733552 
L 424.315613 951.219364 
L 426.740909 950.491667 
L 429.166206 949.568161 
L 431.591502 948.466545 
L 434.016798 947.204517 
L 438.867391 944.270018 
L 443.717984 940.905225 
L 448.568577 937.228991 
L 455.844466 931.345169 
L 467.970949 921.364743 
L 472.821542 917.599147 
L 477.672134 914.129271 
L 482.522727 911.075152 
L 484.948024 909.741513 
L 487.37332 908.556829 
L 489.798617 907.536104 
L 492.223913 906.694342 
L 494.649209 906.046549 
L 497.074506 905.60034 
L 499.499802 905.321986 
L 504.350395 905.076408 
L 509.200988 904.92488 
L 511.626285 904.764088 
L 514.051581 904.482452 
L 516.476877 904.031854 
L 518.902174 903.364175 
L 521.32747 902.431296 
L 523.752767 901.196137 
L 526.178063 899.699435 
L 531.028656 896.218281 
L 535.879249 892.58225 
L 538.304545 890.89195 
L 540.729842 889.385885 
L 543.155138 888.138373 
L 545.580435 887.223733 
L 548.005731 886.716281 
L 550.431028 886.681818 
L 552.856324 887.109656 
L 555.281621 887.948715 
L 557.706917 889.147549 
L 560.132213 890.65471 
L 562.55751 892.418754 
L 564.982806 894.388233 
L 569.833399 898.737716 
L 577.109289 905.519531 
L 581.959881 909.795823 
L 589.235771 915.89187 
L 613.488735 935.589147 
L 615.914032 937.277245 
L 618.339328 938.789511 
L 620.764625 940.089348 
L 623.189921 941.140158 
L 625.615217 941.905342 
L 628.040514 942.348304 
L 630.46581 942.435013 
L 632.891107 942.185681 
L 635.316403 941.672203 
L 637.7417 940.968529 
L 647.442885 937.730906 
L 649.868182 937.185523 
L 652.293478 936.893651 
L 654.718775 936.929241 
L 657.144071 937.364515 
L 659.569368 938.219214 
L 661.994664 939.452412 
L 664.41996 941.019802 
L 666.845257 942.877077 
L 669.270553 944.979931 
L 671.69585 947.284056 
L 676.546443 952.318895 
L 688.672925 965.370701 
L 693.523518 970.043113 
L 695.948814 972.158612 
L 698.374111 974.094283 
L 700.799407 975.825608 
L 703.224704 977.32807 
L 705.65 978.57715 
L 708.075296 979.548332 
L 710.500593 980.217381 
L 712.925889 980.582693 
L 715.351186 980.681413 
L 717.776482 980.554485 
L 720.201779 980.242854 
L 725.052372 979.229263 
L 734.753557 976.787225 
L 737.178854 976.329019 
L 742.029447 975.767737 
L 746.88004 975.547853 
L 759.006522 975.348106 
L 763.857115 974.950752 
L 768.707708 974.17739 
L 773.5583 973.134654 
L 785.684783 970.330183 
L 790.535375 969.521694 
L 792.960672 969.259318 
L 795.385968 969.116434 
L 797.811265 969.111723 
L 800.236561 969.26387 
L 802.661858 969.591558 
L 805.087154 970.113471 
L 807.512451 970.848291 
L 809.937747 971.814702 
L 812.363043 973.031388 
L 814.78834 974.517032 
L 817.213636 976.290317 
L 817.213636 976.290317 
" clip-path="url(#p4730269cea)" style="fill: none; stroke: #ff6414; stroke-opacity: 0.6; stroke-width: 2; stroke-linecap: square"/>
</g>
<g id="patch_51">
<path d="M 56.5 1090.5 
L 56.5 877.5 
" style="fill: none; stroke: #000000; stroke-width: 0.8; stroke-linejoin: miter; stroke-linecap: square"/>
</g>
<g id="patch_52">
<path d="M 853.5 1090.5 
L 853.5 877.5 
" style="fill: none; stroke: #000000; stroke-width: 0.8; stroke-linejoin: miter; stroke-linecap: square"/>
</g>
<g id="patch_53">
<path d="M 56.5 1090.5 
L 853.5 1090.5 
" style="fill: none; stroke: #000000; stroke-width: 0.8; stroke-linejoin: miter; stroke-linecap: square"/>
</g>
<g id="patch_54">
<path d="M 56.5 877.5 
L 853.5 877.5 
" style="fill: none; stroke: #000000; stroke-width: 0.8; stroke-linejoin: miter; stroke-linecap: square"/>
</g>
<g id="text_86">
<text style="font-size: 14.49px; font-family: 'Liberation Sans', sans-serif; text-anchor: middle" x="454.42" y="871" transform="rotate(-0 454.42 871)" textLength="200.00" lengthAdjust="spacingAndGlyphs">Daily Temperature (28 days)</text>
</g>
<g id="legend_4">
<g id="patch_55">
<path d="M 764.26 960 
L 846.26 960 
Q 848.26 960 848.26 958 
L 848.26 884 
Q 848.26 882 846.26 882 
L 764.26 882 
Q 762.26 882 762.26 884 
L 762.26 958 
Q 762.26 960 764.26 960 
z
" style="fill: #ffffff; opacity: 0.8; stroke: #cccccc; stroke-linejoin: miter"/>
</g>
<g id="line2d_156">
<path d="M 766.26 890.5 
L 776.26 890.5 
L 786.26 890.5 
" style="fill: none; stroke: #ff6419; stroke-width: 3; stroke-linecap: square"/>
</g>
<g id="text_87">
<text style="font-size: 10.35px; font-family: 'Liberation Sans', sans-serif; text-anchor: start" x="794.26" y="894" transform="rotate(-0 794.26 894)" textLength="37.50" lengthAdjust="spacingAndGlyphs">Current</text>
</g>
<g id="line2d_157">
<path d="M 766.26 905.5 
L 776.26 905.5 
L 786.26 905.5 
" style="fill: none; stroke-dasharray: 3,4.95; stroke-dashoffset: 0; stroke: #ff6419; stroke-width: 3"/>
</g>
<g id="text_88">
<text style="font-size: 10.35px; font-family: 'Liberation Sans', sans-serif; text-anchor: start" x="794.26" y="909" transform="rotate(-0 794.26 909)" textLength="42.12" lengthAdjust="spacingAndGlyphs">Forecast</text>
</g>
<g id="line2d_158">
<path d="M 766.26 920.5 
L 776.26 920.5 
L 786.26 920.5 
" style="fill: none; stroke-dasharray: 11.1,4.8; stroke-dashoffset: 0; stroke: #c0c6ca; stroke-width: 3"/>
</g>
<g id="text_89">
<text style="font-size: 10.35px; font-family: 'Liberation Sans', sans-serif; text-anchor: start" x="794.26" y="924" transform="rotate(-0 794.26 924)" textLength="16.25" lengthAdjust="spacingAndGlyphs">LTA</text>
</g>
<g id="line2d_159">
<path d="M 766.26 935.5 
L 776.26 935.5 
L 786.26 935.5 
" style="fill: none; stroke: #8ec8f8; stroke-opacity: 0.6; stroke-width: 2; stroke-linecap: square"/>
</g>
<g id="text_90">
<text style="font-size: 10.35px; font-family: 'Liberation Sans', sans-serif; text-anchor: start" x="794.26" y="939" transform="rotate(-0 794.26 939)" textLength="47.25" lengthAdjust="spacingAndGlyphs">Min Temp</text>
</g>
<g id="line2d_160">
<path d="M 766.26 950.5 
L 776.26 950.5 
L 786.26 950.5 
" style="fill: none; stroke: #ff6414; stroke-opacity: 0.6; stroke-width: 2; stroke-linecap: square"/>
</g>
<g id="text_91">
<text style="font-size: 10.35px; font-family: 'Liberation Sans', sans-serif; text-anchor: start" x="794.26" y="954" transform="rotate(-0 794.26 954)" textLength="50.00" lengthAdjust="spacingAndGlyphs">Max Temp</text>
</g>
</g>
</g>
<g id="text_92">
<text style="font-weight: 700; font-size: 16.56px; font-family: 'Liberation Sans', sans-serif; text-anchor: middle" x="432" y="17.76" transform="rotate(-0 432 17.76)" textLength="565.50" lengthAdjust="spacingAndGlyphs">Weather Charts for Sunflower in Russia as of January 05, 2026</text>
</g>
</g>
<defs>
<clipPath id="p4a5050b269">
<rect x="55.58" y="53" width="797.68" height="212"/>
</clipPath>
<clipPath id="pa40467c3e4">
<rect x="55.58" y="328" width="797.68" height="212"/>
</clipPath>
<clipPath id="p971d4a2447">
<rect x="55.58" y="602" width="797.68" height="213"/>
</clipPath>
<clipPath id="p4730269cea">
<rect x="55.58" y="877" width="797.68" height="213"/>
</clipPath>
</defs>
<defs>
<pattern id="heecc6afefc" patternUnits="userSpaceOnUse" x="0" y="0" width="72" height="72">
<rect x="0" y="0" width="73" height="73" fill="#98c8fa"/>
<path d="M -36 36 
L 36 -36 
M -32 40 
L 40 -32 
M -28 44 
L 44 -28 
M -24 48 
L 48 -24 
M -20 52 
L 52 -20 
M -16 56 
L 56 -16 
M -12 60 
L 60 -12 
M -8 64 
L 64 -8 
M -4 68 
L 68 -4 
M 0 72 
L 72 0 
M 4 76 
L 76 4 
M 8 80 
L 80 8 
M 12 84 
L 84 12 
M 16 88 
L 88 16 
M 20 92 
L 92 20 
M 24 96 
L 96 24 
M 28 100 
L 100 28 
M 32 104 
L 104 32 
M 36 108 
L 108 36 
" style="fill: #000000; stroke: #000000; stroke-width: 1.15; stroke-linecap: butt; stroke-linejoin: miter"/>
</pattern>
</defs>
</svg>

</body></html>
